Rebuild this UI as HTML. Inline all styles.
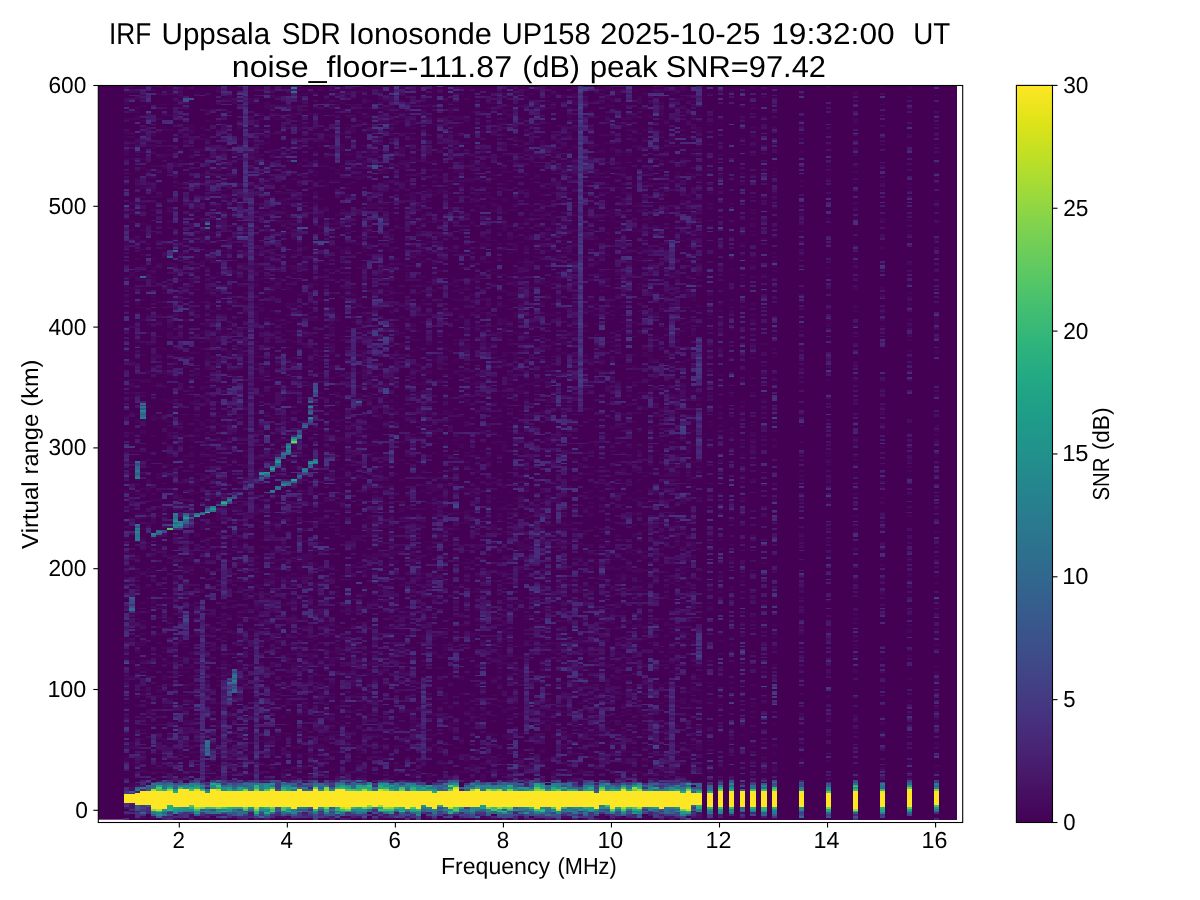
<!DOCTYPE html><html><head><meta charset="utf-8"><style>html,body{margin:0;padding:0;background:#fff;width:1200px;height:900px;overflow:hidden;position:relative}svg,canvas{display:block;position:absolute;left:0;top:0}text{font-family:"Liberation Sans",sans-serif;fill:#000;white-space:pre;text-rendering:geometricPrecision}</style></head><body><svg width="1200" height="900" viewBox="0 0 1200 900"><rect x="98.3" y="85.5" width="858.6" height="734.2" fill="#440154"/><defs><linearGradient id="bd" x1="0" y1="0" x2="0" y2="1"><stop offset="0.022" stop-color="#450a5d"/><stop offset="0.067" stop-color="#450a5c"/><stop offset="0.112" stop-color="#451767"/><stop offset="0.157" stop-color="#432c75"/><stop offset="0.201" stop-color="#365785"/><stop offset="0.246" stop-color="#306d87"/><stop offset="0.291" stop-color="#318584"/><stop offset="0.336" stop-color="#56a36d"/><stop offset="0.380" stop-color="#eadc2e"/><stop offset="0.425" stop-color="#fbe526"/><stop offset="0.470" stop-color="#fde725"/><stop offset="0.515" stop-color="#fde725"/><stop offset="0.559" stop-color="#fde725"/><stop offset="0.604" stop-color="#fde725"/><stop offset="0.649" stop-color="#f9e327"/><stop offset="0.694" stop-color="#e0d832"/><stop offset="0.738" stop-color="#5ba66b"/><stop offset="0.783" stop-color="#378482"/><stop offset="0.828" stop-color="#336587"/><stop offset="0.872" stop-color="#3c4982"/><stop offset="0.917" stop-color="#432f77"/><stop offset="0.962" stop-color="#451867"/></linearGradient><linearGradient id="bs" x1="0" y1="0" x2="0" y2="1"><stop offset="0.022" stop-color="#440457"/><stop offset="0.067" stop-color="#440457"/><stop offset="0.112" stop-color="#44085a"/><stop offset="0.157" stop-color="#430f5e"/><stop offset="0.201" stop-color="#411762"/><stop offset="0.246" stop-color="#3f1f63"/><stop offset="0.291" stop-color="#3f2361"/><stop offset="0.336" stop-color="#462f5c"/><stop offset="0.380" stop-color="#6d3c4b"/><stop offset="0.425" stop-color="#763f47"/><stop offset="0.470" stop-color="#763f47"/><stop offset="0.515" stop-color="#763f47"/><stop offset="0.559" stop-color="#763f47"/><stop offset="0.604" stop-color="#763f47"/><stop offset="0.649" stop-color="#763f47"/><stop offset="0.694" stop-color="#723e49"/><stop offset="0.738" stop-color="#44305d"/><stop offset="0.783" stop-color="#3e2961"/><stop offset="0.828" stop-color="#3f1e62"/><stop offset="0.872" stop-color="#421460"/><stop offset="0.917" stop-color="#430e5e"/><stop offset="0.962" stop-color="#440759"/></linearGradient></defs><rect x="124" y="85.5" width="579" height="689.5" fill="#450b5d"/><rect x="124" y="775" width="579" height="44.7" fill="url(#bd)"/><rect x="707" y="85.5" width="6" height="689.5" fill="#450a5c"/><rect x="707" y="775" width="6" height="44.7" fill="url(#bd)"/><rect x="718" y="85.5" width="5" height="689.5" fill="#450b5d"/><rect x="718" y="775" width="5" height="44.7" fill="url(#bd)"/><rect x="729" y="85.5" width="5" height="689.5" fill="#45095b"/><rect x="729" y="775" width="5" height="44.7" fill="url(#bd)"/><rect x="740" y="85.5" width="5" height="689.5" fill="#450b5d"/><rect x="740" y="775" width="5" height="44.7" fill="url(#bd)"/><rect x="750" y="85.5" width="6" height="689.5" fill="#450659"/><rect x="750" y="775" width="6" height="44.7" fill="url(#bd)"/><rect x="761" y="85.5" width="6" height="689.5" fill="#450b5d"/><rect x="761" y="775" width="6" height="44.7" fill="url(#bd)"/><rect x="772" y="85.5" width="5" height="689.5" fill="#450c5e"/><rect x="772" y="775" width="5" height="44.7" fill="url(#bd)"/><rect x="799" y="85.5" width="5" height="689.5" fill="#45095c"/><rect x="799" y="775" width="5" height="44.7" fill="url(#bd)"/><rect x="826" y="85.5" width="5" height="689.5" fill="#450a5d"/><rect x="826" y="775" width="5" height="44.7" fill="url(#bd)"/><rect x="853" y="85.5" width="5" height="689.5" fill="#45095c"/><rect x="853" y="775" width="5" height="44.7" fill="url(#bd)"/><rect x="880" y="85.5" width="5" height="689.5" fill="#450a5c"/><rect x="880" y="775" width="5" height="44.7" fill="url(#bd)"/><rect x="907" y="85.5" width="5" height="689.5" fill="#45095c"/><rect x="907" y="775" width="5" height="44.7" fill="url(#bd)"/><rect x="934" y="85.5" width="5" height="689.5" fill="#450a5c"/><rect x="934" y="775" width="5" height="44.7" fill="url(#bd)"/></svg><canvas id="c" width="1200" height="900"></canvas><script>(function(){var D="BDABECDACAAAAAAABAIAAELBAADADABFDAAAAADAAFGFAACBABKBACBADALAAAABAAAAAFDCBBAAACABABAAJBCAAAFEEIAAAAECAAACAAFAAAAAAAAABAAACAAAACAAAADAAAAAAAAABAAAABAAAAAAAACAAAHAAAAFCACAAAABFAAAGABADADAAZAAAABABIBDBABAAAHAKAGDAHEAAAJCBAAAAAAFDACAAIDCAAAAABJKJBABAAALAAAAAACFABAJGAJALAAAAABACAAAAAAAAAAAAAAAAAAAAAAAAAABAAAAHAAAHCDFFBAABCBAAAAAABEAAAGACCDBEDDFBAEABACBAAAAAADBIAFFACAHAACABHEACAAAADAIACBABDCAAACAMJFEBABBCGAAAACBCDBBAIJAAAFAAAEAAAAAGAAAAAAAAAAAAAAAAAAAAAAAAAAAAAAAAABBBEAAAEAICAAAAAABIHAFHAAAGCAACXAABAAAAAIBDBCADBABHEIIAADACAMAAAAAEAABAADCAAAEACAAAAMBACAAIBEHAAAABBAACAAAHAAABABAAAAAAAAAAAAGAAAAAAAAABAAAAAAAAAAAAAAAAAAAAAEIHBCBCBAABACAAFFAKIAAABAAAAFABACAAICCCDAEAEEAJNCAAAAAAAAACBAAFAADEBIBBABAGABBAABHAAABAIBAEAABIIIABAAAAIABAFAHAJAFAEAAAAAABAAAAAAAAABAAAACAAAAAAAAAAAAAAFFBGAABAACAADFBAAEBAAJADFICAAAEAAAHABDBFAEAABAFDAFBAAAIAAAAAHAAAAAADHBFBGAAAGBAFBBBIAAAADDAAIAAAIKKKAACCDHADAAAAAJAAAAAEAAAAAAAAAAAAAAAAAAAAAAAAAAAAABAAAAACEGAAAAABEAAAAAFABAIEAAAIBBEHJBFAAADAFDBDAAAABFCIACDAFFAIAEFAAAFEDADDAHABAAEBAFBECKCAAEBAAAGABACABAAAABDEAAAAADAAAAABAAAAAAJAAAAAAAAAEAAAAJAAAABAAAAAAAACDBCIAAAADAPPAAAAABBCCGBDAAADEFEAHAAABAAGEAABAABCCHAACACAAJCAIABAAACDDADEFBAAAAAAAAAIBAABBBDAFABAAEAAFBBAAGAAAJAAABAEAAADAAAAAAAAAAAAAAAAAAAAAAAAAAAAAAAAACIADIAAAABCPAAAAAEDCBIEBHAAAACFFBCACAACBAAAACBAABCFBADECAAABADAAACADAFAADAADDEBAAAGBICABCABEAJDBACFAABBABBFAAAAAAAAAGAAAFAAAAAAAAAAAAAACAAAAAAAAADAAAAFAAABAAABAAAAAECAAAAACAABAGBBABAAAFAACAAABAABAAABAACAFIFCFBAAAAABAAAABABBHAADAAICAABADJBJDCDBAAAAAABABDBADDACAKAAADAFAAAAAAAEAAAAAAAAAFAAAAAAAAAAAAAAAAAAAAAAABAAAAABBABCAAAAAABGGAEIAAABBABCAAAAFHHFCACBCAAHHAFGIDAAABAIADBAAALAAAADAAABJCCBEAFABMHAAAAAABAAAAACAAGDAADLAAAAAAAJABAAABAAAAAAAAAAAAAAFAAAABAAAABAAAAAAAAAAABAEAAAAAGAAAAAAAAADEAAABCCBCBCDAEAHBBAABBAAKADBAIGCDCBDIAAAAAAHAAACCBABCGBJABAFAAKDAAABBAACDAFAFCAHABABDAAAAAAACAAAAAGAAAAAAAAAAAAAAGAAAAAAAAAGAAAAAAAAHABAAIDCAECCAAAAAAAAAGHAAABBHHDBCAABCACIAADCBBHCBBAGHAAAAABABBAAABABDCAAJADADCBBAABANBAADAAAAEABCIFCACCCADAAAAAAAAAABAJAAAAAAAAAAADAAAAAAAAAAAAAACAAAAAAAAAGAAAAAAADAAAACBCFDAAAJAAAADAIIACCAAAAAABHAAAAAABDDADHIBACHEBFAAAAAABABBDAGEHBAAAAFDJAAAAAEBAAAAAAEBAAEACAAAAAAAAAAAAAAAEAAAAAAAAAAAAAAAAAAAEAAAAAAAAAAAAADBBAMAAGAEFAAAABFAACAAJDAAAAAAAABAAAAAACEDABAAAFABAAAAACAAEABAAABDBAFABADAAFDAAAAADAJABAACEGAIACAAEBAADBDIAADAAAAAAAAAAACAAAAAAAAAEAAAADAAAAAAAAAEAAAACAAAAAAADAACACFGAAACAAJAAAHADBACBABBCABCAAAAAAAADAABEABCBGGBDAAAAAAAADFGAHBBEAAEEAAGAACCLIHAAAAEACCAAALBADDABIAACAAAAAAACAAAAAAAAFAAAAAAAAAGAAAAAAAAAAAAAAAAAAAABBCEABBDADAAAAABJFAAEAHBADDEGAAKADAFCBACCAABBDEAAEAAAEAAAABAAAABBCAAABEAAACDAAAAAAHAFAAAAGAABAABKBADDEABBADAAAAAAAAAAAAAAAADAAAAAAAAACAAAADAAAAAAAAACAAAAABEEEAAADGAAAAAAACAADJCAAFBAEABADAGAAACABBABBICCCEBCCAJBAABBBBDAAAEAAABIAAAIBAAAABAJCCBABAIABBCABAAADCAABAAAAGAAACADABACAAAAAAAAAAAAAAAAAAAAAAAAAAAAAHAAABBBAEEBAAFDHAAAAAFDAAAHBABGABBCAADAGAAAAAAGAAACEGCAACDACCADCABBBACAAACBAIBAHGIAIAAAAGFAAACBABBAAAAEBACFCACFACABAAABAAAEAAAAAAAAAAAAAAAABAAAAFAAAAAAAAAAAAACAABJFAHHAAFAAABABAAABHDCAAAAACDBAADAAAIAAFBAAJCCABBDBAHEAGCCAABABADAAAAHADHABAAAACBMFAAABJAAAAAAAAABAEABABACAAAAADAAAAAAAAAABAAAAAAAAABAAAAAAAAAAAAAADAAAAAIAJAAHIAAAAAAAAAAAAEHDBAAAADDAADADAAAFAAAACAABBBBAEBEEEAACEECAAEABABBAEEAHBCBAAAJAJDAAECBBDBDAAICACAAACAAAAAAAAAAAAAAAAAAAAIAAAAAAAAABAAAAAAAAADAAAAAAAAAAAAAEAAABDBAAAAAIDAAGIECAAAACCBBAACAADGABADGBEIKEBAFCAAABCDAAAAACAAABDJDCCAEAAAAAAAHCBAAAKAAIAAAFFAAAAACCAABABALADAAACAAAAAAAAAAAFAAAAAAAAAAAAAAAAAAACAAAAAADAAAAACDABAAADACHABLAHAIAACACABADDADCAADCAAEALAAADAAEAAEBABAAAABEECABDABBAAAABBACJICAAAEEBBAAAAAAADAAABAAAAAAAAKAAACAAAAAABAAAAAAAAAAAAAACAAAAAAAAAAAAAAAABDEABAAADAABADACCABCBBAAAAECGBDDCABEJABBAACLLHCAAABAAAAHAEAAAAIAEACCGBAADFBAAACCBGGBAAADFAAAAACAAAAIAACBAAAAAAADABADABAAAADAAAACAAAAAAAAAAAAAAJAAAACAAACAAFCAEBBADDBAACABCGAAJBBBCAAIAGBADAAEAFABBAECBGABAAAAACAAIGAAAAAAACBDAIIACACAAAADABHGDAAAAAABBABCBAAIABAABAAAHAAAAAAAAAGAAAAGAAAAAAAAAEAAAAAAAAAAAAAAAAAABAIBEEBAAACABAAAADEAAAGABAGACBAFAEAAAAAJADBABABEDAAAAAADAAAKDAAAAJBICAAAHABBGFACCEBANAIAAAEAAADAAHFBAAHAAFBADAAAAAAAFAAADAAAAAAAAAAAAAAAAAAAAAAAAAAAAAAAAABCAAEBAAAABCAAAAAEFCAAHFFGACCAAFAEBCDAAECDAAAAGJECFBCDAIAAABAAFABEAACABADABEABAABDBALACAAACDAAACAAFAAEAAAACAAAAAAAAAAAFAAAAAACAAAABAAAAKAAAABAAAAAAAAAEAAAAAABDBAAAFACAABAAFAEAAIGCBCAAAAAACABDBBEAAAAAIAAFBACAAAGCAEBCBCHAEAABDBAAAGBAAACCABAIAAABBBDABAAAAFAAHABAACAAADAAAAABAAAAAAAAAAAAAAAAAACAAAAGAAAABAAAACAAABBAIDAAAABBCCDAAEBHHEAEGEACAAHAAAAAADABGAFAAAIIDAABACAABAAEACAAGAEAAAAAABAACDAADABCAKGBAAAABAAAAAIFBABAABHAAGAAAAAAABAFAAAAAAAAAAAFAAAAAAAAADAAAACAAAAAAAAAABEGAAAAIAACBBBAADIFBEACAAAAGADBDDCCAAIABBAAICBACEADBABAACDCAAAAACAACADBAACAAACBEDBJGAAAAAEACBABAIAABJJACGAAAAAAABAAAIADAAAACAAAAAAAAAAAAAAAAAAAAAAAAFAAABACCDDCBAIACDAACAFFGGAGBDDAAAAAFEDACBBAIAAIAAAGDABFAAAAICABDDCAAAAAAAAAACBACABAACAAAIGCAAAGFAABACHIACBAAAAIAAAAAAAEAAAAAKAAAAAAAAAAAAAACAAAACAAAAAAAAAAAAADCBFAACAAAABEAADAAAIIAHABBBAAAAIACAAAAAIAADAAACBAEHAAAAIDADCCCBBALAAAECAAACBABAABCAAMFFAABCBAAAAAJBAAGAHHIFAAADAAAAACAAADAAAAFAAAADAAAAHAAAAAAAAAAAAAAAAAABABDBBAAAAABAAABAAAIAAGADCAAAAABBAAAAAAJBADAAGACAAIAABAAAAAACCBAABBAADCBFACBABAFACAAKABBAAAAAAAAAHBABAAAAAGACAAAAACACAAAAAAAAAAAAABAAAADAAAACAAAAAAAAABAAABACDBBCBCCAECAABCDBAADKACAAAAAABBFAABIDGBAGABHBAJADAFDAFDAAAFALAADDDABBABBAAADFIABABGABBAAAAAABBAIGACBBAAABAAACAJAAABACAGAAAAAAAAAAAAAAAAAAAAAAAAAAAAAAAAAGCLAABAAACAAAAAGDDCAIIGFDBAAAGBJDABAAADEBAEAAFHAHAGBACAFCAAFACAAAFCDADBAAABJIDCCCAABLABAAABAAAACCCHBAAAAAAAAAADAAAAAAAHAAAAAAAAAAAAAAAABAAAAAAAAAFAAAACAAACALAFAAABABABBBGGCDFIIHIBAABCAEAAAAAAAAFBIAAABBCHAABAABFCEBAEBACAABAAEDAAACCAJDBAABAJHAABABCAFABGADAAAAGABBAAAAAAAAAAAEACAAAAAAAAADAAAACAAAADAAAAEAAAAAAAABACBIBAAABJAADAADABABHCCCADBACADADABAAAFAAACFBDADACBAGAECACAEAABAECGAAAAAABAIJEBBAAAJHHBBAACBCAAAAAABAJAAAAAAAAAAAAADAAACAAAABAAAAAAAAAHAAAAAAAAAIAAAACAAABAAABCAAAECAAAAADBBADAGCAAAABGCAAAADAFBIABBBAABAADEBADADCAAICDFFADAAAACECCABEEABBDEAJDAAAAAAAAAAAEAEFAJBAEIAFAAABAJABACAAAAAAAAAAAAAAAAAAAAAAAAAAAAAAAAAAABABAFACBBEAABEBACBDAACJBBBABACBAAAAEADDKABACABBBJKEDAAAHBAAICGFBCAAACABBDACBBBEADBJAICAAAAABABAAEACDDAAAABCADABAAAAABAAAAAAAAAAAAAAAAAABAAAAAAAAAAAAAAAAAAAAAADABBAGAACAAADHDAHAHCBAACFCJJAAAAABAIAAADCBACJCABABADAAAADBBAADDCCBAAFCACBDACEAJAMIBAAABAAAAAAAAAAAAAAAAAFAAAAAAAAAAAAAAAAAAAAAIAAAAAAAAAAAAAAAAAAAAAAABBDBDAAAAAAAAABCAFGAACECBCAAAAAAABAAAAAGAAABAEDAHFAAABACAAAGEAAAAADACAAAEBCCABAABDABHGCFEAFAAAABAGCAAAABAAFAAAEADAAAAAAAKAAAAHAAAAAAAAAAAAAAAAAAAEAAAAAAAADAGADAACAABAAAAHIDABDAFADFBACACPABACAAAJACCABDGBHAABBBBCABADAABABEAADAABBAABAAADAABDJDEFCADAAAADAKABACADDAEAAAAAHAAAAACAAAAAAAAAAAEAAAAAAAAAAAAAAAAAAAIAAAFAAABAAAABAABDAFFAIDCAJBBMAEBAAAAACBAAAHACABBCFHIAABBHAACAAFBECAAEBAECAABAAADDDDABBBKFDDCCCCACAABKAAADHEAAAAAAFAAAAAAAAABAAAAAAAAACAAAAAAAAAEAAAAAAAAABAAAEAEFAAAAEBDDGAEDAIDDAAHABMBEEAAABABGAAAAAFFHBADAADBCCAAAAFAAADBABCBAAGBACCCAAADAEBABIMGAGAEBAAAAAAAEAADBAAAAAAAAAAFAAAJAAAAAAIAAAAAAAAADAAAAAAAAACAAAABAAAAAAAABBCDCCAAAFCABABAAJDAABHEFAAADCHBBAABADABIPIABCADAAAAAAAAFECCABAAADAFGAABBDJCBIDJFHAAAAAAACADCIBAADBAAEAGAAAAAAAAAAAAAAAAEAAAABAAAABAAAABAAAAAAAAAAAAAAADBAAABDAAADCAAJBHBBAHCHAJAABAAAAAAAABAAIBBCCOADIABBAABAAAACFEBBCBCABBAABAAAAEJDBCDKHHAAABCBAAABCAAAAAAACGAAAHAAACAAAAAAAAAAAAAAAAAAAAAAAAAEAAAAAAAAAAAAADACABHBACAAEAAABBCABIAIAEEDBEABAAACAAAABADAAAABDBACADEAEBCBAABBACDAAAAAACGAAAGAEBCJCKEDCAAAABAAEABABAAAAAAFABAEAAAAADADAAAAAAGAAAACAAAAAAAAAAAAAACAAAAAAAAAAAABACACHAAAAACAAAAHAKGGBJAADHFAADBAAAAAADCAHABBAEAAAADAAAAABBAAAAFAABBAFAAAAAAADBCGDHBABAAAAAJBAAAIABAAAAAAAAAAAAAAAAABAAAAAAAAAAAAAABAAAAHAAAAAAAAAAAAADBABFAAAAIABDEADCBADHAIBCHAAACECBHAAAAACAADCABICBABAAACGAAADBAEABGGAAAAAAACAAAACCABCJEBBDAICBAAHABGAAAAACABACAEAAACAAAKAAAAAAHAAAABAAAAAAAAAHAAAAAAAAACAAAAAAAFIAADCAADFBBCCCCCAGIIBBDDCDADBABAAAAEGAABAAAAADABCBAACADAACAAAAABDAAAABABAAAADABMAABAAABCAADDCAAEABAABCAJABAFAAABADABAAAAAAAAAAAAAAAAAAAAAAAAAAAAAIAAACAAGBCAAACAAAGAJAGABBAJBBAABEFAAACAAAAAACCBBBFAAKAGAAAACDBBCABKAABIAAAAACCAABAAAAGEALIBBBCAABDAHAAABBADHGCAAAABAAAFADAGAAAAAAAAAAAAAAAAAAAAACAAAAEAAAABAAABABDAAAAAAAAAAABAAGBAAIABGBCDFABAAAAAAAAAAABABHAAAAAAEAFAAACABABBCAFBAAAAAABAAAEAHBAIAAAAAABADAHACIGFABAGAAAAADADAAAAAJAFAAAAAAAAABAAAACAAAAAAAAAGAAAAAAAAHACDAAHAABAACBAEDFBAAAKAAEDADAAACEDABABBAAAAAAAABCBABEAAABADCBCBBABCAAABAAAAAAADBACDICBAAAADAAADAAAAACACAABAAAJAAADAIABADAAAABAAAADAAAAAAAAABAAAAAAAAAFAAAGABCCBBAADAFACAGDAGBBAFEADAAAABAEEACAADDAACAAAAABCDBBAAAACACAAAAAAABAAAAADAADAABCAEFMABEEAAAAEAECAAAAAABBAFAFABAAAAAEAAAAAAAAAAAAAAAAAABAAAAAAAAAAAAAACAAABACDCDAAAABCHIEDBGKJKCKDBCBBAAAABFADAAAAABAAAAADBADCAGAAAAAABHBAAAAAACBAADAAABCBCAAAKAADDBAACEAGABBBCADCAAAACALAAABAEADAAAAAAAAAAAEAAAAAAAAACAAAABAAAAAAAAAABBBCAAABAAIEACGHECJBJBEAEDACAABAADCBAAAAAAAADDFAACABACACECAABAAAAAAAAAAAAAADABCBBAICGIAAAAAABGDCAABAEAAACAAAAAAAAAAAAAEAAAABAAAAAAAAAAAAAACAAAAAAAAAAAAAAAABCCAAAABDECABHEACAAEAEIDEABAAAABAAAAAGBAADACDCBACABAAAAAABADACACBACBACAAAABBAEGAAHAAICCDBBGAGBAADHABFACEAGABAAAAAAAAAEAAAAAAAAAAAAAAHAAAAAAAAABAAAAAAAAIAEAHBAAAAAAEAACGFBACDIDAGAAAACBAGAAAAACAAAAAABDCACACAAABABBAAFABEFAAABCABBAAAAABEACMABAAAEABAAHGADACCDFACCAFAAADAHAAAAADAAAAAAAAAAAAAAEAAAABAAAAAAAAAEAAACAEADBAAAHAABAAADAAACDICCCAADAABAAABAAACCAAAHAAABABAAAAEBBBCAABAAAAAAEAAACAABAAAAAACKAAAAABAAAAGBAAACABDACAAAACAAACAAAAADAAAAAAAAAAAAAABAAAAAAAAACAAAAAAAAHAAAFACAAGAEAAADCCAACEGEDCJABBBCEAABAAAHFAAAHGCCAAAAABDBBABBBGDACBBBADAAKCCAAAABDDBAHCIABBAABBAAAAEBAAACACAABACAAAGADAAABAAAAAAAAACAAAAAAAAAGAAAAFAAAAAAAAHAAAAABAAHADABABAACBHCEDCGGAAAAFCBABAAACBBIAHADEAACABBACDBADAAAAABAAADAADACAABDADCAAIAEADAAAACAADAHDBAACBAEAAAAAAAAAAAHAAAAAADAAAAAAAAAAAAAAAAAAAAAAAAAAAAAABBABBAAEADADCDIICBACEDACABAAACBAAEAAACABDABDFBAFCAABADCAAEABDCAAABAAAACACAAAAACHAALAAEAAACADAACDGBAAAABADAAAAAAAAABACACAAAAAAAAAAAAAAGAAAAEAAAACAAAAAAAAAAHAAAAACDAFAGCIAABAEAHIAABIABCBDAABBAAAAEEAADACAAJAABADAAABBADACBEABABABAAAAAAACAGAKFAAAAAACFAABAAEAAAAABCAAAHAAABAAAAABAAAAJAAAAJAAAAAAAAAAAAAAIAAAAAAAADAHCDCAAEDAGCIAAAAEBGAFHAAEIBBAAAAAAAAAAGIAAACADAAFCCCABBAACAAEABCAAAABAADAAABACABAAHIEAEAAABCAADAAAAAABCAAAAADAAAJACACAAAAAAHAAAAAAAAAAAAAAAAAAAAAAAABAAAABACBBBABAABBCAAHAAEBLILAAEHIABAADBBAAAAGHABAAAEEDBDADDDAAAEACCBBAABAAAAAAAAAABAABIBNEAGCAACBDAAHGBBBAABEAAAAACAAAAAAABAFAAAAAAAAAFAAAABAAAAHAAAAHAAAAAAAAABCAAAEAAAADFBDAEDAEACAGBCDHHBBDIAABAAAAAAAAHBBBBAFAAGCAAAAEAAAAAAAABAAABEDADBADEHIAHGAGEAAFCFABAAAAAAADBBBABAAABAEAAACABAAAAAAAAAGAAAABAAAAAAAAAAAAAAEAAANAGCAAGAAAABGCCABBABADADABDEAAAECCACAAAAAAAAABBAAAAAADBGAAAEAAAAABBABBAACAABACCDAAHBHAAAEAAABABBDDACBCCADFFAAAAAAAAAAAAAFAAAACAAAAHAAAAAAAAAEAAAAGAAAABAAADAJCAAAABHAAFBDAABAIIEAHAHDAABAAIABEABAAAAEACBBCBAEAHCACDAAHBECAAABAACAAAAAAAEAAAAIAIABBHAAAAAAAAAAFCAFBCECABAAACABAAAAABAAAAAAAAAAAAAABAAAAAAAAAAAAAAAAAAFCAAABDABCAAABAAGAAAIEGGAAABAAAAIBAEBCAABADCBAABAAAABDCAAAAABDAACAAABCABBABACBAAAAIAJAEAAABGADABCAEDBABABACAAAGAMAAABAAAAAAAAGAAAAAAAAACAAAAAAAAAAAAAAAAAABAFBAAEACDADACAAABBAAHFFEBACCBBAAAADDBAAABCCHFECCAAADEAAAABABIGABBAABCBAAAAABBACABAAIBFAACABCDACADBIAACCBIAAAAEAAAAAAAKAAAAAAAAAAAHAAAAAAAAAAAAAAAAAAAAAAABBJDAAEAAHADBAAFFKCACFCHCBBBCCAAADCECAAADCECGFFACBFADGAACAAAEAEBAAJJADBAAEABAABAACGAGAEAAABCAAAAFDGICGEAACCAAAAAAAFABAAAAAAAABAAAAHAAAAAAAAAEAAAAEAAAADAAAFABDABAAAGAAIAAFBAIBHIBFABCEAABHFFABBAABBDEBIAHADAAACBABDFADFABCAAAAAAAAADABBBCAAAFBGBFCCBACDBAAEAIAAAEGBBAAAAAAAAAAAAAAEAAAABAAAAAAAAAFAAAAAAAAAAAAAAAAAAGAAAAADAAFAAABAAEAFACHEEDCAHHABEJDACBAAAAIAAAGICCAAAFAABACAJJEHBAADCAFAAAAAAABABDEBAKACCBABAGAAAABAABABIIBAAAACAAADAAAFAAAAAADAAAAAAAAAAAAAAAAAAADAAAAAAAABAAAAADAAIAHHACEBLBAAAEFAEACAAAAEAAGAHCAJECAEFFMDABACCHCAEABKAEDAADIAGAAAABDCBBBAEBAIAAAAAAAAACABBAAAAAIIDCAAAAAAACABADAAAAAAEAAAABAAAABAAAABAAAAAAAAAAAAAAAAAADAABHAAAABAABCAAGHGDCGICCBCFAAGAAABACDAECANEAAAAACBABDBJBCAAAAAAABAAAACAAABAFIAJBABEABABFABAAAAAACCIDAACAAADAAAAABAAAAAAAAAAAAAAAAHAAAABAAAACAAAACAAAABAAAAHABGAHAABIACCAAAACADHABABAFAAHACABFCAAJBAJCAAADHBABCAEBDAABAFFFHDAAABAAAABABBAGHAAAAABAEBAABAAAAFBIIDAAADABAAAAADAAAAAADAAAADAAAAIAAAACAAAAAAAAACAAAAAGBAAAAAAADCJAZACCAHACJAAAAABBCBAADADBBCADAJAIIIAAADEACAAAEACAABAIDABBAFBDABHACGBBANADAAAAAKEEABAAACAAADBAAAADAAAAABAFADAAAACAAAAAAAAAIAAAAAAAAAAAAAAAAAAIAIACABAAAAACJAABHDCBDALBAIAACABBAABBDAACHAAHDAICACADAAEAACHACCCACABAABBFAAACCAABFAAJAFAAAAABFDACABAAABACAHABAAAAAAABAAACAAAAAAAAAAAAAAAAAAAAAAAACAAAAAAAAEAAADADABAAEDAFVAECAAHCECABAAACAOPAABICCABAABBAJAABBCACAAAFEAAAAAAAAABBAACACAABACHAAICAAEAABBFBADCCACAEFFADAHAMAAAEAAAEAAAAAAAAAAAAAAAAAAAAADAAAAAAAAAAAAADBABDAAAADAEAACBAACBAHBHAECIAAACFAAAAIIAABAABDAJACAADAAAAAAGAACEAAACAABABAAABACBCBBBIACADAAAGJABBAKIAAACABEAAAEAJAEAAACAEAAAAAAAAAAAAAAAAAAAAAAAAAAAAAAAAAHAAADDCAAFAAAEBBAEDDBBBFACBCARABEEAAAIAAAADACBGJCAAAEABDCBAAAEAAAACDAAAAAABAAAAAFCCBGAAGDAAEBABBDAADABACCCAAHAAAAAMABAEAAAAAACAAAAAAAAAAAAAAAAAAABAAAAAAAAHAAADACAAGAIHCBABEAADGDIFAABCDBCDEAABFCAACAAFBAGCAAAAABCDCCIDABIAADDABACAAAAADBAGICAIDEAABAHAAAADBBEAABBFBBAAAAAAACAAAEAAAAAAAAAAAAAAAAAAAAAAAAAAAAAAAAAAAFAAAEAAAABADHAABAHAACCAHAAAEFBADCAAFAEAAHAAAGAAACBAAAACEEABDDAAAAACAACACACABGCBKBCAAMCDAAAAABAAAFAFBAAEAADBAAAAAAABABAAAFAAAAAAAAAAAAAADAAAACAAAACAAAAAAAAIACAIAAAAAAAABBJBDABDMLFAAEHAAACJAAIAAGBAHABCCCAEBAAFFBACEBABBAFAABBAAABBABCGCACEAABHCBBAAAAFAAAAAJJBAEAAAAAAAAABAAAAAAABAAAAHAAAAFAAAAAAAAACAAAAEAAAAGAAAHBBAAAAAABAFCEBHAAACAIIGAAGEAEABJAAHADAAAFAADAAABDAACGAAADADACAAAAABAAABAABCGADAAAAAJBCBABABEAAEAAAAAACABBCAAAGAEAAAAABAAAAAAAAAAAGAAAAAAAAAEAAAAAAAAABAAAGGABAABAALAAHACBADHBABCHAFAIGAAADAAABACAADFAAAAHHAAACAHBAAABAAADAAABBAAAAAAAABBAFBBBIAAAAAAHEJAFDABAGLABADCAEABAEAAAAAIAAAAAAAAAAAAAAAAAAAAAAAAAAAAAAABAAABHBDAACFHBBBHBCBFBACCDCFABGIDAAACAAMMMDAACCAFAAAACAAAAAABDCAAAAGFBAAAAAAABAAAAAAFAIAKAAAAAACDAAABAAACGIAAECAAADAAAAAAAAAAAAAACAAAAFAAAAAAAAAAAAAAAAAAADAAABAGABAEBBFDAAAABAABCAACHAAEEEAAABAADMADAAAABIBACCAAAHEFCABBAAAACAABBABACBAAABCDCABABHAABCAACCEAAFAABBJAAAIBAAADAFABAAACAAAAAAHAAAABAAAAAAAAAAAAAAHAAAAAAAACDCAAAAAADBEAAAAAAIHABEFCBCADBAAAAABBABAAAAACCFACAAABBFAAGCAACAAAABBAAAABABAICCJAACBLAAAEECDCCAAACCAALBABGFAAAFAAACADAAAEAAAAAAAAAGAAAACAAAAAAAAAEAAAAAAAACADAEACBAJBAECAAAAAFAAAHCCAABHAACBABAAABABAABDAAABCAAABDFAHDACAACBEAAFCABABABAADACCAJAAAFAAAFAABABACAGAAACAAAACADAAAEAAAAAAAAAAAAAAAAAAIAAAABAAAAAAAAACAAAGAACDAAAACAAIGGABCABBABEAABDBIIAEBAPAFAABBAAAABDBBAACABAGAIBBAABAAAIABCGDACADAADBABALAEABAABABAABBADAHBBABAAAAAAAAAAAAAAAAAAACAAAAAAAAABAAAAAAAAAAAAAAAAAAAACAAAAAIXAFAHABBJBBAEBIACDBAIABCAADDHAABCAABAAHABAAEEEBBFBABBAKAAAAAAAABABAADBAIBCAKABACAAGBCCACCEFCHAAAAEADAAAAAAAAAAAAAAAABAAAAAAAAAEAAAAAAAAAAAAAAFAAACAAAAAACIBBCAAAAHIABABCGBCBDAAAABAAIDHCABEACAAAAAAAAFBCABBCBAAAACAAIAAABAADABDAAAABAMAHHFAAFBBADBBDCDFAHBADADAAAAAEADAAABAAAADAAAAAAAAAAAAAAAAAAAAAAAAEAAAAAABEAACIABAABAHDIBEAHCFBEABCCABCAABADDAAABAABDDAAAAGBBBAAEFACCDAAAIAEAAAAAAAAAABBABGAAIBBAAAAAAADEEDGAAICEAAAAANABADAJAAAAAABAAAAAAAAAAAAAAAAAAAAAAAAAAAAEAAAAAABTAEIIBADEBBEAIBIAACCAFADACDCACAADDDAAAEEAIAABCAAAACDAAHAEACBAAAAAAAABBEBBDAAHBBBBAAAIJABAAAAEFAAEHAAAAEACAAABAAABAAAAAAAAAAAAAAAAAAAAAAAAAAAAAAAAAAABAJBAAAIAFBAABBAAAAAAIBABEDAAAABBIAABACAAAAAEIAEBAHABACABCAAHACACAABAAAABAACDEBACAHADACAABHJBABBADDIBBAABAAAAABAAAAAAAAAAAAAAAAAEAAAAHAAAAAAAAAAAAAAGAAAGAAAJAAAAAEAAAABBPEFCAAEAAADDAABABAHIADBBCABFEAHABAAAAABBDAAAAHBAAAAADAAAABABAACFDCAIAFADAAFDAACDHAADGEACHBAAAAAAANABAAABAAAADAAAAAAAAAAAAAAAAAAAAAAAAAAAAAAAADAAAAAACDABACCEAAAADAABABIAAAGAEBAAADFAAAGIIAAAAABABACEAAAAAAABBAAAAABCCAAABADACIAABAAADDCAABAACBJCAAIAACAAAAAAAAAAABAAAAAAAAACAAAABAAAAGAAAACAAAAAAAAAAAAEABABBAACCBAAAGAABBECEFAAHAAGBABABDAABAABHABACBBAAIAABAFAAGABDAAAAAAAABBAAAIAADCMACBAAADABAAABBDAFAAABBAAAFAAAAAAAEAMAAAAAAAAAAAAAAAAAAABAAAABAAAADAAADAABAACAABADAADAAAFAADBCBBCCACBBCBAFAAAAAAAABHAEBAAACBHAAAAAAAAAHAAAAIAADABBEADIIIOGJACAAAADACAAACDBAEADCACAAACAAAAABAHABAAAADAAAAAAAAACAAAAJAAAAAAAAAAAAAEADCABBAHDAEGDABAAICADCCBADDCFABCBAFAAAACHABBHACBCEAAABAAHAAAABDAAAAAIAAACBAFAAAAAADLBAAAAAABGAAEIDAGIADAEDAAABAAAJACAAAAAAAAAAAAABAAAABAAAAIAAAAAAAAAAAAAGGCFAAAAAHDEGAACAACBAADDAAGIEDABBFAFADBBAAAADAACJCFBBAAAAAAAAAAGACABCBAABBCBDAAGAAKCLAAADDBCGEBACEABCGAAAFDAHADABAFABAAAAAAAAJAAAAAAAAAAAAAAAAAAAAAAAAEAAAGACABCAAAEDAABADAAFEBBAFBBACBEAADBACABACAAAADADDBGAAAAAAABBEAAAAAEACAAAAACCAAAAAACKCJAAABAACDHAAACDADACAAGCAJACAAAAAAAAABAAAAAAAAAAAAAAAAAAADAAAACAAAACAAAABAAABAACCEDDAABABHEBEADCADAAAABAAADAACACCAAEAECACAABFEAAFAAAAAAAAGABAAABBAAAAAADICAIAAAAAABBEAADBEABBCDAABAAAAAAAAAAAAAAAAAAAAAAAAAAAAAAAAAAAAAAAAAAAAAAAABAACAAAABGAIAAEAADJACAFCACDAAAABAAAABAAAAAACACBBAAABFBAAAAAAAAAABDEABBAAAAAAADAAIDDJACCBAABCDBADCFAFBBAAABAAACAAACAAABAAAAAAAAAAABAAAAEAAAAGAAAAFAAAAAAAABABVCBAAABAAAEAABBAAACAGAABAAADAAAAECCAAABAADAABAGAABEABABAAAAAAABADAFACGBDDKAABCEFCIAAFAAAADCDDAAAAACBACAAAJAAAAAAABACAAAAAAAAAAAAAAAAAAAAAAAAAAAAAAAAAAAGACAAAAAAJACDDABDABAAAAFABCKCAAEEAAFAAAAAAAADBFCJCBAAAAAAAGFAAACBBDEAAAACDBAAHAABBCDHBAAACADFAAABAAABAAABFAAAAAAAABAAAAACAAAAAAAAAAAAAABAAAABAAAAFAAAAAAAABABBDBAADGBABBACAAABAABFBAACADAABGABACCACBAACACECCAACCCAADHAABCFBBAAABBAAAAADBAABAHAIACFDBAACBAABFGDAACAAABAAACAAAAAAAAAEAAAAAAAAAHAAAADAAAAAAAAAFAAAAEAAAJAAADBADAGAABFAABFAFGAABAABABAABAAAAAAACADAABAEAAAAAAAAABCIIABAEADAAAAABBEFADBBAAAACJGAAFBAAHEAAAAAADACAABAAIAAAAABAEAAAAAAAAAAAAAAAAAAAAAAAAAAAAAAAAAAAAAJAAADADACAAFBAACDAAFACDDBAAACACCAABBABAAADEAJACDEAAAAAAAACBBBAACAAAEBABCBECABBACCAGCFAAACAABAJABBFEFDAFEBAAAAAAADAAAAADAGAAAAAAAAAFAAAAAAAAAAAAAABAAAAAAAABADCDCBFBAACCAACDDCBABBDBAABBAAAAGCAADAACCAACAFABAACABCBBAAEABAAABAADHAABACAAABAFCEBLAAABDAAJFAADFAADBAAKKDAAAAACAGAFAAACAAAADAAAACAAAACAAAAAAAAAIAAAAEAAABBBAAAACBADBAAACAKKCAAAEAAFBBABAAGBAAAAABCBACAAAABAAAAAADACFAAABADAEAHAAAECBEAADCBDAMAAAAABEDEABAJAACCDAAAAAAAAADAAAAAAAAAAAAAAAAACAAAABAAAABAAAAAAAAAAAAAAADBAAABGAAEBCABDCHAAAACAAIEADAAAEAAAFAAAAAAAABDAAAAACAAEBAEAABCAACAAFAAACEAJAAAABDCHAAAAAAACHAAEAABDDBADIAAAAAABAAAAAJAAAAAAAAAAAAAAAABAAAAAAAAAAAAAAGAAACADABEAAGHDEAAABBCEAAAADAABBAAAAAGAGACAAABAAICBEBBAAADACCBACABAAAADAABBAACEAIBAAEACDIAAABAAACCAAEBAACACBCIAAFACAAAAAIABAGAAAAAAAAAAAAAAAAAAAEAAAAAAAAAAAAAAAGAKKABEADBFAABDAEFAABFAHBAAAAAABDIAGCDAEAAAACEACBBACBACAAEAACAAFFAAAABBCEBIAAAEAAAGAAAAAAABAAADCBABCBABBAABAAAAAAAAAAAAAAAAAAAAAAAAAAAAAAAAAAAABAAAAHAAACAAAABAAABAABAAABBAAAAAFBAAAAAAABACIAEAAABBAAACABAAAAAAAGAAFAAAABEAAAAABBIEBAABABAACIAAAAAABGBAADCICABAEBCAABAAAAAAAAACAAAAAACAAAAEAAAAAAAAABAAAAAAAAAAAAABAAAABAAAICAAAAAABACCEBGCAACAAAAAADAAAAABAAAIAGAAAAADAAACAAEAAACADAAADAAAIDAHGCABDABKAEAEAACBHGAAAHBBAFEBBAAAAAAAAKAAADACAAAAIAAAAAAAAAAAAAACAAAABAAAADAAAAAAAAAAABBCFBAABAAIIAADDAADCCAAACADAAAHABEBBABACACAAAAAAAABABAACAABCAEAACBBACACABACEKAAAFAADAGACBAIIECBAAAAAAAAAAACAAAGACAAAAAAAAAAAAAAAAAAAGAAAADAAAAAAAABAIBABAAABBAAAAAACACBABFAEDCCAAADAEBBJAAADEBAAKKAAAACEABADCAABBCBDBCAAABABBAHAAADAAAGABAHCCAAAAAAAFADECAABAABAAABAEAAAHAAAAAAHAAAAAAAAAAAAAAAAAAACAAAAAAAADABAAABCHIDAEABCAIBHCAACAAAADAAADACFABAAAJFAAAHHCDCACAAAAAAAAAAACEABABAABAEAABAADAADLFAAABAABGAAAFCABACAAAAAAADAAACAAAAADAAAABAAAAAAAAAAAAAAAAAAAAAAAADAAAAABAACAAAGAFAAABBAACBBAEABAAAABBAEACABAAAABBAAIDDBCBDIABCADDAAAAADACACAAABFFIBACLAABJAABABAAAAACAAABACCAAAAAJABAAAAABAHAAAAAAAAAAAAAAAAAAAAAAAAAABAAAAAAAAEAAAAAAABEGADDAEAHAAFEDEBAAAAABACAAAAAAAAJACAAEFGDACBFBAAAFAAAACCAABABBAACABACAAGHJBJBDAEEBABEAADAABABCAAABAFAAAAABAAAAAAAAAAEAAAADAAAABAAAADAAAAAAAAAAAAAAABBAGACBDGABAADAAAAAADGCBAAAACACACEAEBAAGGADBCBAAAABDCAAAAAAAACCBBBABAAGCIHAAABCCAAJAEABBABBHAACABAAGJCCAAAAAAACACAAAFAAAAAAAAAAAFAAAABAAAAAAAAACAAAAAAAAAAAACAAAADJJBAACACACAADDABAAAAAFAAAEAMCAAFAAAABBAACACCDADAAEACAAABBAFAABAFHAIAAAAACBHBACCAAAAAAAADACBEFAAAAABAAAAAAACAAAAAAAACAAAABAAAAAAAAABAAAAHAAAAAAAABAAAABAAAJJACBAABAAAAACEBBABFAABCAADACBAAEAAAACAABDAAFCADABBAAAAABAAEAAAACAAFAAAAADBKBBACABAAIABECABFFCEACAAFABABAAAAAEAAAAAAAAAAAAAAAABAAAADAAAACAAAAAAAAEABAAFAAABAAFAABAAAAAFBGBAAABAAECABAADCAAHABCDDAABAAAEBABAHCCAAABABCAAAABCEAECAACACDICAABCAAAIAAFBBAAABAAADABAAABAHAAAAAAAAAAAAAAAAAAAAAAAAABAAAAAAAAAFAAAAAIABDBABCBAECADACBAAAAFBAAAAABIJFAAAGHAAAAABAIAAAAAAECCBCDEEABACCABCAAABJDBBABBAAEDIAABDABABGAACCBAAFDAAAAABAAADAAABAEAAAAAAAAAAADAAAAAAAAAAAAAAAAAAAJAAAIAHACDCDFBAAACAABEDADBAFBAAAAAAABABCABHBAIDIABADAAABABAAADDAAACAAEABAAAABJAAEEAABAFCJAAAEAAAABAAAFDBAHHAADAAAAGAAAIAAAAACAAAAFAAAAFAAAAAAAAAGAAAAAAAAABAAAIAIACAAAAIAAAAAAADDACAACBACAAAACADBBABDAABBAACIFAAAABAAACBHHAAAAAAACABAAAEBCDGAACAAAIAAAKABABBABIEAAAGEFAAAACAAADAAAAAAAHAAAAAAAAAIAAAAAAAAAEAAAAAAAAABAAAIAABEHAADGJBJAAECEEAAAAGBAAABCAAAEBBAGDBAAADACIACFDABAAADAFAABACAAHIABBAABICDGACCAABKAAAABAAAJAAFHEAADCAACDAAABAGAAABADAHAAAAAAAAABAAAAEAAAABAAAABAAAABAAAAABAAABACAAAAAABBDACAACGBADAAABABGAAAABAAABEBCAIHAAAAAABFADCAAACAEAAABBBACICBHACECACJAAAFAAABCBAFHAAAFAABBEAAACAGAHABADAFAAAAJAAAAAAAAADAAAAAAAAAAAAAABAAAAAFABCCABAAAAACBDIAAEADDDAIDABAAIHAAAABAAAACABAJHCAAFBAAIADFDAACABADACBDAAGAAEDAFABDMBABCAAAACACEHAFAFABAAAAAAEAAAAADAAAAAAAAAAAAABAAAAAAAAAAAAAACAAAABAAAABDAACAABAEAAAABEIABDAAFDEBACAAABHAAADAAAAAAEGEANCBAFBAAFDEADAABABCCBAABAFGBBAAADAEAJCAAJAAAAEAAAAACAIAAACBAGACAEAAAAAAAKAAAABAAAABAAAACAAAABAAAABAAAAHAAABCCAAAAABAEAAAAAADBAAFDDCFBACBAAAAADACCAABACDAAAAAAABAAAFAAAAAICBBAAAAAABEGBDDBAAAACLAAAJAAAACAABAAAAIAABAAAAAAAHADAAAAACAAAABAAAAAAAAAKAAAAAAAAAAAAAADAAAJAEAAAAAACBAEEAAAFBFACBFABAAAAAABAACDABAAAGBAACJCCBACBAAAAAAAAADACABAIBAAAAEAFAAAAAAHAAAKAAABBAADEAABIHAACAABACABADAEAFAAAAAAAAAAACAAAAAAAAAEAAAACAAAACAAACAEAAAAAAABABAACBBAACBAIAABABABBIBAAAABAACHABCKGEHCAAEBAEAHAAAABABBEAACFAABAABDACDABJBAAAAABAHACIAAAAGBBABAAAABAAAEABAAAEAAAABAAAAHAAAAAAAAABAAAAGAAAAAAAADAGGBFAABADAHABCEBABCDBCACDBCAAAEDCDAABAAAGEAELAAABBAAAADACAAAABAAFABCAABBIAAAAAAACBHAAAAACAAEABFAAAALBAABAACACAAAAAAAFAAAAAAAAAAAAAAAACAAAADAAAAFAAAAAAAAAACAAEAABACAACADEABBAEAIACDDABABJBBAADCAAAHAFALEAGBAAAAACABABAAGAAHDCBABABBAABAAFDCBIAABAAADABAAAFAACGBAABAAAAFAAAAACAAABAAAADAAAAAAAAAAAAAAAAAAABAAAAEAAAAAEAACCABBCABCACACGEGFBGACBBCAAADCABAABABGFDBCDDEAABEBAADAEAAAABAAFAABAAAECBCAAABBAAFBAAAABCAACAAABAAFAABAAAAAAAAAEAAAAAAAAAACAAAAFAAAACAAAADAAAACAAAACAAAEAFAACAABCBADDEDBCEDAADIAACBDAAABAAAAFAAAAFFCCBCMFAAEAAADAAAAAAAACCAFCAAADCAACAABDBDHAEGIABBAKAAACABAFAAAAGAAAAAAAFAAAAAHAAAAAAAAAAAAAAAAAAAAAAAAAAAAADAAAAABAACAAAAAAAAABBCFAEDDBAACABCBACAEAAABABCHBDEDLLEAAABBADAAAABCDAGCAFFABACAAGACABAADKAAFIAAFAKAAAEDAAFBAAALAEAAAAAAAEAAAEAAAAAAAAAAAAAAAAAAAHAAAABAAAAIAAAFABCCDAAIAHIHABABBFDAIBGBACADCABCAEAAAAAADGBEEAAKCAAFAAABACAAADAAABAAAAAAAAAAEABABEAJAAFGBBAABAAACAEAHBAADHAEAIADAAAAAAAAAAAAAAAAAGAAAAAAAAAEAAAAAAAAAAAAAHAAABBAAIAFIGAAABAGAADCHAAAAAAAABCEEADBAAAFACDIHIAEBAAAABAAAABFBAACBBAABCBBBABABFBBAGAACIAABAAAAADAEADAAAAFACAAAAADABABAAAAAAIAAAAAAAAACAAAAHAAAAAAAAAAAAAAABAAAAAAEFAGAAABBAADABCBDBAAAAAABCAAABAAAGAAGEGADABDAAAAAAAAACBAACAEAAAAFHHACCAAAIEIAABEABCAJAADFBAAEBAAAJABAAACALACAAAAAAAABAAAAAAAAADAAAAGAAAAAAAAAAAAADAJAAABAACFAABAAFIAAABAFADCDAICAABDAAHCAADFAAHDEIAABGABAAACBAAABBBECDAAAADHFCBAAAAABIAAACAAAAJAABCADABEDDKGAAABAAAAABAAAAAAAAAAAAAAAAAAAAAAAAAAAAAAAAAFAAAJAAAAEABABDEAABDFDDAEBAEBDHAABAACAABAABAABGAAAFAIAAAIAACAAGBAABBAADBAAAAAABADBBACAAAKAAEAAABAAAABCACAABHCKJAAABAAAAACAAABAAAABAAAAAAAAAAAAAAAAAAAAAAAAAAAABACAADAAAAAFAAAAAABBABDGAAAAFAAAJAACBJCAADEBBEIHFABAABAAAAAABABCADBBBAAAABCADEAABAAALAAABADBAAAAACAAFACAAAIAGACAHAKAGAAAAAAAACAAAAAAAAAEAAAAAAAAABAAAABAAAAABAADAAAAAABBABAAABABAFBAFAABAAJAABAABAADGACEIHAABAAAAAHGFAAFICADGEBABBCFGAIAAAABACJAAEEDADAAAABAAADBGFAEEABABAAAEABACACAAAAAAAAADAAAAHAAAAAAAAAAAAAABAAABAEBABBABAAAAAABAHABHCBEAAFBAJAAIABCAEADAGFDBAFDHCDBCAAABABAAAIGADEEAABABAACAAAABADBJBADEAAAADBABBAAAEAGAEHABAEAAACAAACAAAAAAEAAAAGAAAAAAAAAAAAAAEAAAAAAAAAAFAABCAGBABAAAACCIBCCAECCDADIAAAAEACHADABGBCAADHBAADBAAAACCAAECAFIDABBAAAABADACCAFCHBAIAACABCAABAABCAAAADGAEAFAAAAAAAAABAAAACAAAAFAAAAAAAAAAAAAACAAAAAAAAAACAACBABFFBEAABBBDGEFAEAADAGGABEADBAAAAAAKABFAAADBDAAAEAACCAAFDAAIICAAABCACCAAADAEAHAAEAABAADAAABAAAGAAAEMADAAABABABAAAAAAAAEAAAADAAAAAAAAAAAAAAAAAAAHAAAIAAAACAAAAIICAABACDAAFAEAAAABGBAAADABHBAACHACGJAAABAEDAAEBCBABADBBAAABBABACAADABDAGCGCBABABAAFAAABBABAAABBGAAAAAFAEAAAAAAAAAADAAAACAAAAAAAAAAAAAAAAAAAAAAACBAAAFDAABAIAAADCCHAACBGAAHADIFBAAABADAAAIEICGAAAACDEDAAAACAAAAAAAAJFFBADADHBHBAEAFDJCBECACAADAAABCAAAEBAAHAAAAAAAAAAADAAAAAAAAAAAFAAAABAAAAAAAAADAAAAAAAADCCAAAAAECAHFAADADBDAIADBFJABIACJABAAFAAABKIBEDDAACAICBAEABCAAACAAACAABDAHAIAAACDAFAMACABAMAAAAAFAADABAAAEKAFAGAAAAAAAAAAAAAACAAAAGAAAABAAAAAAAAAAAAAAAAAAABCAAAEAAAAAGDADBCACABACBABABDCBHABAAABEABFAGJFDACBCIACAEABAAAAAAEAKACCDAIABAACACAKCHAAAAABBABAABBAIIABAABMAAAAAAAAAAACAAAAAAAAAAAAAAAADAAAAAAAAAEAAAAAAAAAAEAACDABAABAAABCIAEFDAGACBAAFAGGBBBAGBFAACABJHAAHCCEAAECABAAAFAABAKCDAACIFADBBAAAHCEAAAAAAAAABAAFFEAEABACHAAAAAAADAAAAAAAAAAAAAAACAAAABAAAAAAAAAFAAAAAAAAAADAAEBAAFFAADABCAACCBAFCCAACGEEGAABAABIIAEABCGCGDEAABADAACBAAACAGAHAAAAECAEDAAAAAAAHCABAAAAADCCDDGEIBEFAILABAAAAACAAAAAAAAAACAAAAAAAAAEAAAAAAAAAAAAAAAAAADAGABFFBEFDACAAAADABAAAEADBAGEBAAAGAAGAABADACDAAGDDAACCABAAAABBBCADCAAACABCABACDJAFDKAABBACAAAAADAFEAEAEAHKACAAAAAAAAAEAEAAAABAAAAKAAAAAAAAAAAAAACAAAAAAAAEAEEBACBCFHAABAACDAAAAAGACBABJABBACBBFABACFBBFAAECBAADABBAAAABAAABCEEAABAADBAAAABBCFIAAAEEHAAAAAAABEAAAJAAKAAAAACAAAAACACAAAAEAAAACAAAAHAAAAHAAAAIAAAAAAAAFAAAADAABGBACBAAFGIBAAAEABBAAADABAEGAFAACBGACBABCCAAABAGAAACAABAACCEDAABCCHAEAHDCEIDLGAACAAAAAAAADCGFGAAAAIAGABAJAAAAABAAAAAAAAAAAEAAAAAAAAAAAAAAAAAAAAAAAFAAAADABABAABAACBEAHDHADAAFAAAAGHAAFBEABBBGABBEADDAADAAAAAAHAABABBHACABACAGADAAAHIBDJAAIIIBAAABAADDADCAFAIKAAAAAPAAAAAAAAAAAABAAAAAAAAAAAAAAAAAAAAAAAAAAAAAAAAAAAAABAAABAACEBACCAEBBAABBBBHBBAADBAADEACABACBIAACABAAAABAADBABBAADBBACACABABACDICACAICAABAAAABADCADAIJAAAAAAACABAGABAAAABAAAAAAAAADAAAADAAAAIAAAAAAAABBBBBAAAAAAAEAAAEEAAGIDDABDBAAABBAAAABAAAAHAACHAACAAEAAADABAAAFBAAAEAACBFAAAABAEAAJBLIACBHBAAAAACBAACADAAKGAAAGAAAAAAAAACAAAAAAAAABAAAABAAAACAAAACAAAAAAAAHAABBAAAFFAAKAABBCIAGAACAAAAJBAFDCACCEAACCIACCAFABEAABABGGCEAAACABBIFADAAAAABACIAAAALEDFGADBAABBCAAAAAGAAAGAIAAAAACAAAFAAAAAACAAAAAAAAAAAAAAAAAAAAAAAAAAAAHBAAAABAAACAAAAAAAAABEAFAAAAIAAGFABPAJJDECFAICBGBIBAABBBBHAAAAAABBDAAADBAABBAABAHAAAJBAAAAACAABAAAAAAACBAIHAEABAAAJAAABAAAAAAAAAAAAAAAAAAAAAAAAAAAAAAAAAAABBCAABDBAABAAAAAIAADAEADAAABADAAEEBLAJABAELCAAEACDCAGAAAAHBHAAABAAFAFBAAACAAFACJIAAALHHAABCCAADAAIAIACICAIFAAAMADAAABAEAFAAAAAAAAAAAAAADAAAAAAAAAAAAAAAAAAABDAAABBAACAEABBCBBAIHACAADBBFBBGABPAAAAACHBEBDCBADAIIABAAABAAIJAEGEAAAAABAABADACAIDJCCAABCDAFAAAACABDBBAAAADABAAAAAAAAAHAAAAAAAAAAAAAABAAAAAAAAAAAAAAFAAAFAAAAAAAAFCAAABAAEAJIHAEEACAADAAAAAOAFAABAGAIAAFMAAACEAAJAAABAACAAEDDABDBAAAAAAAEABEFBAAACACABAAABBDBAHBAADAFAAAAAAAAAAAAAAAAAAAAAAAAAAAAAAABAAAAAAAAAAAAAAAAAAAAAAFACBAAAAECFGDACEACAAICBBAATAAAAAAGAAAAGMCAAADACCAAAAAIAADEFEBCCBBBABAAADAIAIACAABCFACAAABAAIABCABDAAAAAAAAAAAKAAAAAADAAAAAAAAADAAAADAAAAEAAAACAAACBCBAAAAAIAAAAACEFBIGCAGEAAACLEEFAAOBAABAAGAABACMDAAAABBCAAAAAABABBFAAAAABEAAAACEAACHBDAAADGAAABBGAIBAACAABABAAACAAABAAAFAAAAAAAAAAAAAAAAAAABAAAAHAAAAAAAAAAAAAHAAABABFGADEDIIGIACDBBACBBACABKAAEBAAECAAEAAAAAAGAFFAACAAAGAEBAAAACEAAAEGAJAAABGBAACAAFAAAAABADEBABAAAAAAEAAAAAAABAAAAAAAAAAABAAAAAAAAADAAAAAAAAABAAAAACBABAAABAAACCACAAABIAFACAACBAABAAPAAACBGFADBAACABABBBIDCAIAADCCBCCAABAFABAAFFAICBAEAAAFAAHABAAFCAAFBBCAGAACAAABAAADAAAIAAAAAAAAAIAAAAEAAAACAAAAAAAAABAAADBFAADAAAAAAAABBAAAAECAHAAAACCBADBLACBAABIBBABBDBAAACFBGGAACBDBAAAAJAAAFBAAABAACIEFCFAAAAACCAAABFFBAEDBBBGBABAAAAAAAAAAAJAAAAAAAAACAAAAAAAAAAAAAAAAAAAHAAACAFAAAABACBAABACAAIADJACAAAACCAACALHADAAABGECBAFABAADEFAGAAAAAABABAAAAAACABADEBBJACCIAACBAAAAADAAHAAGABHBCBACAAAAAAAAABAJAAAAAAAAAAAAAACAAAAAAAAAAAAAAAAAAAAGFAAAABBAABBABEBIEFKBDACAACAAAFAVEADACAAHTACAFBBAAAAEECDACAAFBADEAAAAAAADAAABCJBEAFAAAIADHHAAAAHAACHFAAAAAAAAAAABAAACAAAAAADAAAAAAAAABAAAAAAAAAAAAAAAAAADAAXAAAAADDABCCBEAJFGEAGAADBCAAABBAAAAABAAIGADABAAAACBADBAACAAAACAAICABAAACCIAAAEAAAGAAAABEEABCAAHCAIDEIAABAAAAAAAAAAAAAAAAAAAAAAACAAAACAAAADAAAAAAAAAAAAAAAEKBAAAAAFAAADADAACBEAGAHABBAAAAALIAJKBABIGBBBBHABAAAAAAAABAAABAAACDAADEBDAAADANBCBHAAAAAAAABAAAHBAAADIBABABABAFABAAAAAFAAAAAAAAAAAAAAAAAAAAAAAAAAAAAAAAAJADYBAAAAJCDADAABAAFBDBEAAAEALKCAAbBACAAAAHBAACCEBAAABBGEAAAAAAAAACBAAAAAAFEAAAABABAFAAAAAAABAACBFCADABHAAAAJABAAABAAACACAAAAAAAAADAAAAAAAAABAAAAAAAAAAAAAEAAQAAAAABAAADAAEADAGHCFAAABGCAAAAJBAAAAAEDAAACACCABAACIIBAAABAAGACEABABAAEAAABDBDDAFCBAAAAAAAADBAABCADDDCHADAAADAAAAABAEAAAAAAAAAAAAAAAAAAADAAAAAAAAAAAAAAAAcAAAABBAAABAAAAACFAAFAIAACEABBAPGFABAACAAAGBACABAAACCBAABAAAAACBCCCAAABIAABFCABDBGAAAIADAAAAAAAACEEAAAADADAAAAAAAAAAABAAAAEAAAAAAAAAAAAAABAAAAAAAAAEAAAABAVAAFAAPAAAAAAFBACEAAGBIBACDACAAUAACAAACAAFHBADCCAEDDCBDABBAAAABAAAAACAAABCBEAACAAAAACEAADACBBAADACDBAAAGAAABAEADADACAHAAAADAAAAAAAAABAAAABAAAAAAAAAAAAAACBRAAAAEBBCADAAIAAIECBEAABAEEAAAAMABGABABFHCAABAICAGEACBDBBAAEAAAFAAAACABEBBABAABACCAADAAADCCAAAABCEBACAAHADABAAAGAAAAAAAAAABAAAAJAAAADAAAACAAAAAAAAADAAABCAVABADEAAAABAADBBCABACAACAABAAAAAFAAAAADFABADBABABAAABABAACCBAAAFEABAAAABBGEBIAIAAAAAAAEAGAAAAAHBCADAFCBHAAAAACAAADAAAAAAAAAAAAAAAAAAAAAAAAAAAAAAAAACAAACAAaABBDAFAAAAAAAABABCAFAAABBCBEAAdGAAAAAHAAAAABABAACBAIEAAEAAAACAEABAAACABAHADHADAAAAAAAABEAIAAABAADFBBHGKAAACAAABAAACAOAAAADAAAAAAAAAEAAAAEAAAAAAAAAAAAACABBABABAEAAABABBAHIEAAEAHAAABAEAAQEFABBBAADBAAAAAAACCAMDDDDBAAAAAAAAAAAAEEEIADJIHFBAABAEAAFACAAADACFIAKABHAAAAAAADAAAAAAAAAAHAAAACAAAAAAAAAAAAAACAAAAAAAAIABCAAAABIBAAABABAABAEAGAFFEADBADCNAAJABADAEEAAABEBAAFBAADBBAAABAAGAAAABABEAACABIHHIACAAAAAAADBAAIAACAAEEAEABAAAAAAABAAADAAAAJAAAAAAAAABAAAAAAAAACAAAAAAAAIAACAAAAAJCACABAABABAFAFADEAFDAAAOJIADAAAACCCAAADACAAAABACAAAAABDAICDDAABACDAAAAAIBCAAAAAAACCAAAAAAEGGAFFAGAAAAAAAEAAAJAAAAAAAAAAAEAAAAIAAAABAAAAAAAAAAAAAAAEDAAAACCAAAABACADCJAAFBCIAAAAABTBFACACABDBABAACIBABAACDAAHBAACAAICAAAAJAAAAAABAAAADAAAIAACAAAAAACAAAEFAAIABACAAAAABAFAAAAAACAAAAAAAAABAAAACAAAAAAAAABAAAAAFAAAAAACCAAAACFABDJAADABKABFAAATACAAAAACBFABAABIGAAACABAAACAAAAAABAAABKBNCBAAAMBIAAAABDABBBAAAABAAAADNAAHAAAAAAAFAAACALAAAAAAAAAGAAAAAAAAAEAAAAAAAAABAAAAAAAAAACAABAABBACAADCACIAAIADEADDDAABKBAACAEDABAAAAAAAAMAACABAAAABAAAAAADADFEAAABJIDAAAAAABAABADABACBCDLBAEAAAAABAAAAACAAAAAAAAAAABAAAAFAAAABAAAAAAAAADAAAAAABAAACAAAAABAABABCCAAGBCAACFIFQABBADAEAAACAAAAABAAAAABCCCACAAAAABDAAABGACGDAAABACCAAAAAAAACDABADAADGALABGAAACAAAAAAADABAAAAAAAAAEAAAAFAAAAAAAAAAAAAABAAACBABAAAABCAAAAABAEJCBAABBBADBHAANBAAABAAADDCAAAAAAAEEABFKBALAEFGFECBBAAAEBABGAFACAAAAAAAFAAAAHAAAIAEAHILEAFAAAAABAGABAAAAAAAAAAAAAAAAAAGAAAAAAAAAAAAAAAAAAAABAAAAABACABBABCACCAAADDDABAHEBNAAHABAAADDAABAAEGAABCAACBAEABABFCAFFAAAABBBHHAECCCAAAAAABAAACAAAAAACEBFAAGAAAAAAAAABAAAAAAAAAAAAAEAAAAAAAAAAAAAAFAAAACAAACAEAABAABDACDBAAAAAAAAAGDAMAAAAHcAAAACDAAEACGAAAAHLACAAAEAAAACAAFAAFABAAAAABAAABCABAAAAADAAAADAAABADCAABAACAAADAAAAABABAAAAAAAAAAADAAAAAAAAAEAAAAEAAAAAAAAAAAAAAAABDIAAAAGABABFBBFAAIAAEAdVACBABEBBCAACAAAABMACCBBAABAAABAAAAAAAAAIIAAAABCBJAEAAAAFAADFEAAAJBAAABDAAGAAAGABAAAAAAAAAAAAAAAAAAAAAABAAAAAAAAAAAAAAAAAAAAEAAAAAAADABAACECABGCCEEBIABBCnDABAACGBBBABAABAAIAADGFGAAAAABAADADAAAAADCAAFABGEIAAAAAACAAAAAAAABABAAABAALADAAAEACABACABAAAAAAAAAAAAAADAAAAEAAAADAAAABAAAFAFAAAABAIEAADDAAACEAAAFDAIABAAyFAADAAABABAGDAGGGFEBAHAFAAABAAAAFABABBBACDBCADACAIAAAABCCEABBAAAAAAAACAAFAIAAADAAAAACAAAAAAAABAAAADAAAABAAAAAAAAABAAAACAAAAABDAAAEAHAAAAABBBBAADBFAABCAARWDAADABAAAABHDAAGAFAAACBDHCAAABAAAAAABAAACADFAABABACDEDAAAAAEABAAAFEAABAAFAIABAFAAACAAAAAAAAAAAAAAAAAAAABAAAAJAAAAAAAAACAAAIAAAAAAABABAAAFDIIBAAAAFCDAFACXBECAIADAAAAAAABBBAEAAADABHAABAABACAAAAABAIAGFBABAFFAABAABAABAACACABAABAAAABIAHAEAAAAABABABAAAAAAAAACAAAABAAAAAAAAAGAAAAFAAAKKAAAAAACADABAABBECBIAACAAAAAFfBFBAAABBAAHABAAAAAFFAACAFAAAKAABADAABAABAAAFFEAAAAAAABAAAIACAABAAAFAAAEDHBAFABAAAAACACAAABAAAAAAAAAAAAAAFAAAABAAAACAAAAAAAABAADAAAADAEAAAABAFEBFAAFAAICABYAFAACAABAACAHJAAAACAAAIAAAAAAAAAAAAAFAABABBAHFDCDEAAKAAAACAAAAAAAABAAFEBHBAGAAAAACAAABAAAAAAAAAAAAADAAAAAAAAAAAAAAAAAAAAAAABBBCAAAFECDAAAAABAAAEIBEABDACEdBBAAGABAAACDCBAAAAKAADBAAAAAFACAABABAAABDIABAEAHBFCBAAABAAABAAAABAIBAJAAABAHAAAAAGAAACAEAAAAAAGAAAAAAAAAAAAAAAAAAAFAAAAHAAADAAABDAADFAABABAACEFAAAEAADABUYEEAAGAJCAACBCAABAHKAACEFAABAAAAABAAADAAAABABAAABAACCFFBCAFAAABAABABAAAAAABAHAAAAABAAACAEAAAAAADAAAABAAAAAAAAADAAAAAAAAADAAAFFEAADAAAEAABACDBAAABAAGACCDEaSCAAAHBIIAAACCGEAABHAABEAEAAABAKAAAAACAAAAIACCCAAAIDAAAAAAEACEFCACAAACFCACAAGAAAGAIABABAAAAAAAAAAAAAAAAAAFAAAAAAAAAAAAAAAAAAGAAAAAAABDABBABBBAAAAABFBDCBEQAMCBAGACDDACBAGBAABFAABCAECAABCAABCBABABAAAEDCEAHACKAAAACAAAAAABACACAACFBAAAGAAAKAAAAAAAAAAAAAACAAAABAAAABAAAAAAAAACAAAABAAAFAAAAAAAAAAAAAAAABDAAAAFCBBCRQAAAAAFAGHAACAAFADCCHAAAAAEAAAADCAAAEBBADAAAABCAAAAGFBAACAAEAAAAAAAACABBEDGHAHAAAAAAADAEAAAAAAAAAAAAAAAAAAAAAAADAAAACAAAAAAAAHAAABAAAAABBAAAADAAABAAFABAAbACCABCYAKKBAHBAFADACIABABAGDAAAABBAAABAAAAAHHABIAABHJABACAAAAAAAAACCCAAHFDGAACAAABAAAAAAAAADAAAACAAAABAAAABAAAAAAAAABAAAAAAAADBWDAAAAAKKABAAAADEAEAAGAADDjBAIAAbgAJAAAACDEAADAMAAAACLAAAGFFGBABABACAAJABAIIICJAAEAAAAAAABDCEDAEACHBADABBAEABAEAAABAAAAAAAAAAAAACAAAAAAAAAAAAAABAAAADAAACANEAEEAABAAAACAAABABAAHBBIDSAAABAjWAJBAAAACEAAAABBACAACAAAGAAAAAEACAAAAIBEAAIFCAKAABAAAAADAACAAABACIDIBGAAAAAFAAABAAAIAAAAAAAAAAAAAAAAAAAAADAAAADAAAABAAAGDOCAAABBAAACBAAAAACACBEAAJDTBAAAATCAKBAABCBDAAABAAAACABAAAFBAAAABFCAAAAIIDAIIBDCAAABBAAAACFABCAABAAEACBGAAACAAAFAAAEAHAAAAAAEAAAABAAAABAAAAAAAAAAAAAAAAAADATDBAADAACADAABDDBAAABDAAJaOBABEAVBADAAAAAAIAIDAHAAACAAAAAAADACAAEBAAAABBBBDAAFGFAABDBACAAAAADCAAAABBDBHABAAAAAEADAAAAAGAAAAAAAAAAAAAAHAAAAAAAAABAAAAHAAAABUAAAAAADAAAAABCGAAAAAEACBlAJAAEZDJEFAABAABAICAAAAAAJAAAAAABHADBAFAAAAACADAAEIAAGBIAAAAAAAABABCAAFACEAABAAAAAIAAAGAAAAAAAAAAAAAAAAAAAAAAAAAAAAAAAAAAACAAAEAZAAAAABCACBAAHHAABGGAGBCBUBEAAAcAAAAFAABAFCHABAAAAAGABAAAEBBAAABAAAAAAAAAAAAHAFEAHAAABDCABBABBAAAAAEBABABAAAEAAACACAAAAAAAABAAAACAAAAAAAAAGAAAABAAAAFAAACAUDEAADAJAAAAAABEJAABACBakAAABJIQIKBABAADBAFDABAFAAAFACDABAAAAAEBAAAAADDAAAAAAAAEAACAAABAAEDAACBBDAABCACADAAAAAAAAAAADACAAAAAAAAAAAAAABAAAADAAAAAAAAACAAAEBRBFABDEDAAABBACEFADDAGBiZADFAAHMHBABCAADAAACBAADBAAAAAAAABACAACAEFABAADACAIABABEAACBBAAAACCCAAABFABBBABAAAEADAAAAAAAAAFAAAAAAAAAAAAAAAAAAAAAAAAAAAAAAAAAKAWAAABJBCAAAABCBIGAAAAEBITEBCCATCIAABBAACACAADDACAAAABAAAAJADAAAAADAAAACCMAABAACAABAAAACDBAAAAABAABBBBABAIAAAAADABAAAAAGAAAABAAAADAAAAAAAAAHAAAAAAAAAEAAACAbEAABAAFAAFABCAECABHCDCRIAAAABOAAAAICBBBIBCABCCAAADDDDBBCECEAAABACBAAAABBIAAAACAABBAAAAAAAAAAAAAAAAAAAACBAAAJAAAEAAAEAAAAAAAAAAABAAAAEAAAABAAAABAAAAGAAADABABAAAAIACCBDABABABACFIMAALEDmDCAFAEFAAACAAICCBAABAAAAAEABADAAAAAAACABAAAAGIFADCACAADACAACACABAAADCCBABAAAAABAKAAABAAAAAAAABAAAABAAAAAAAAAAAAAAHAAAAAAAAAAAABAAAAFBCIBAAEIBAACHFGCKAARQUDADJCAAABAAAAHAAAAAAAAAADAAAAAAHAACABBAABCBABAEBADAAAABDBBGAACAAAAABIBAAAAAAAAAABABACAAAAAAAAAAAAACAAAAAAAAACAAAAGAAAAAAAAABBABAACAABACAACDIIAADBGCEAAAXaECAAFAJKBAFBAADCABAAAAAAAFABAEAAABABCBCAAJALABBBEBCAAAAACCCAFCBAAAAAAIDEDCAAACAHAAAAAAANACAAAAHAAAAAAAAAGAAAAGAAAADAAAAAAAAJDBAHEAAAAAABBAAAEJDAAFNAAAAAfUEAAAIAAAAAEAACDJBABAAAACBBBDBCBAACAABACBEEAGAIAAABDAAAAAAACAAACAAAAEACCBAAAAAAAAALAAAAACABAAAAAAAAAAAAAAAAAAAAAAAAAAAAAEAAAADAABCAAAAAAAABACBAAAAIKBABAWDADAACCACABAAAAGCEDBCAACCAABBDAAIIAABAAAABAACBABAABICBAEAABAABABAAAAAJAAABAIBAAAAAAAAFAAAAAAAAAAJAAAADAAAAHAAAABAAAAAAAAAHAAAAGABBACCDIAABACAAAGAGDKDAAAAXAAAAACAAAABAAAAEBAAAGAAADAABBBBAIBBBDADCAAAIIBAACDAGJIJAAAAAECAIAAAABJBCCBAAAFAGAAAAAAAAAAAGAAAAAAAAAIAAAABAAAAFAAAAEAAAAAAAABAEABABAABACDADFCDAAAAABAAAaAAIADBCAAAAAAIACCABADBAAAHABABADABAABBCJAAAAAHCAABDAAEAJAABABAAAAAABACCAEDAAABAAGAAAAAAAAADAAAAAAAAAAAAAAAAAAAAAAAAAAAAAAAAAAAABAAAAABABAIABADAKAAGHBGAAOUACAAAACBAAHHAEAABACBEGAAFEBACAADABACCCBAAAABAAAAACBAAEAAADAAAAABBABAACBFCBABBAAAAAAAAABACAAAAAAAAAAAAAAAAAAAAAAAAAAAADAAAAFAAAHABBABAIJBAABAAHDKDHFMAEAABBAAHIHBDADBFBCBAAAAAAFECACFAABAADADAEACAAAAAAAAAAEAAADCAAAAAAAAGBCAAAAFBGAEFKGAAAAABAAAIAAAAAAAAAACAAAADAAAABAAAAAAAAABAAAAAAAAHAACAAAJACBAAAACBECAMBABCEAHCJHGDAAIAAHAAIEAAABAABAABEAAAABCAFAABAACAAAAABAAIACACCBACBABAAGDAAAAAAACAAEIAAAACAHAHAAAAADAEAAAAHAAAALAAAAAAAAAAAAAAAAAAACAAABEFAAAAJACBAAACCBAEPQCBHFAACAIBAEBAIACBCAJAAAACCAEAAAFAAABABAFAAAFABBAAABCAABABHCAAIACBACACCABABBAABAAIDCEBABAAAAABAAAAABAAAABAAAABAAAAEAAAABAAAAAAAAAAAAAHBAAABBAAACCCAAIAACaAAAEACEAAHAAJAABABDABBABAAECAAAAADAAACABAAAAADABAAAAACIACBCBBAAIAAAABAACAABAABBCBCABDABAEADAHABAAAAABAAAACAAAAAAAAAAAAAAAAAAAAAAAAHAAAACACDAAABKAADAAABCeTCDCDAADAAADBACABACAAAAEAGFIIACCCAIIGAAEFAFAADDADABBAACGBBAECBAAAAAAAABAAAAACAFCECAACAACAAAAAAAEAAAAABAAAAAAAAABAAAAEAAAABAAAAFAAAAAAAAACEDAAAAAHJAAACAACoNDACFAAAADIBCEDBIBAABCAAAHAIBBDABAAFABDCJJJAACCABAAAABBADACEACHAAAABAAADAAAACBAADCACBAAAAAAAACAAAAAAALAAAACAAAABAAAADAAAABAAAAAAAAAEAAAAEFAAAAIJCBCJAHBANWAABCFBAFAABGBBFBFAAAACHABAAACAAAGAEAAABBDAMAAEAAAAAABACACCADAIIAFBAAABGACBAACAAIIEADAAAAAAADAEAAAAAAAAAAAAAAAAAIAAAADAAAAAAAAAAAAAAAAAADACAADCBBJJGDAAIZABABBAGBAIAAGGDFAADAAAABEAAAEDFAIAABAAAAACBANAAAJFCAABAADCABBBAHGBAAABABDACAGABFDFAGBAAAEAACAMAEAHAAACAAAAAAEAAAAAAAAAAAAAAAAAAACAAAACAAABBEACDACACCAIAAQhFDBBBAFBBDAAHGABAAAAAAAABAAIDDIABABACBBABBAADAAAKANABBBDAFFBFIAIEADABAAAABABAAAAAGAAAAAAEAAAACAHAEAAAFAAAAAAAAAAAAAAAAIAAAAAAAAAAAAAABAAAFAAACAABABACCAAWYDFAECAFBDCAACFDCABCADCBADAAGBCAAIABAAAAAACAAAABBEADAAAAAAAGCBIADAAIACAADAAAAAAAAAAAAAAAAEAAGAAABAEACAAAJAAAAFAAAAAAAAAAAAAAAAAAAAAAAAAAAAAAAAAABAAADBCAQqACEAAACEBBFBHICBGADAAAAAAIAAAADHCFBAAAAAAABBABBBAIAFAAABBAAACAJAICADACAABBAAADABAAABDCABACAAFAAAAAIAAAAAEAAAAAAAAAAAAAAAAAAABAAAAFAAAAAAAAAABBAGAHAaERIXYCABEABDCBBAAAACBAAAAAAAADAAAEAAAAAAAAAABAABCACBABAAABABABDABACEBAIBADAABAAFAACCBCAAADABAAABAAAACAAACAAACAAAAAAAAAAAAAAAAAAAAADAAAAAAAAADAAAAAHHDFBAAXEYEgAAABBAAACCAAIAAAAAAAAAAEAAAABAABDDABAABACAABDFAAACAAAFABAAEAABEEDAICAGDABAAAACDCAAACBFCJJJBGAAAAKAAAAAAACAJAAAAAAAAAAAAAABAAAACAAAABAAAAAAAAABCBACADAWBjRBAAABDDAACCAAAABABACAABBCBAACAAABBGACACFIEEAHAHHIADDBBBAAADAABAAJDAJAAAAAAAABAADEADAHIBBADEAFAAAAAAEAAAEAAAGAAAAGAAAAAAAAAAAAAAFAAAAAAAAAAAAAKDAAABAFFcAVFAEDABBEJDFABABAAFCACAAABAABADAABABGDCABBBCBABEIHIABEIAAABAABFAABJAAFAAAAAAAADAAAHADAHDBKAAJJBAAJAAABAAAAAAAIAAAAAAAAAAAAAAAAAAAAAAAAAAAAADAAACCAAABAAAjdUHABEAAEACBBAACHAAJAAACEHAAAAAGAAAACBBGHCCAACAADIACABAGFIAEBAADAAGJDAHAAAAAAAAABAAIAAAEAAIAEAACAAAAAAAAGAAAAAAAAAAAAAAAGAAAAIAAAADAAAAAAAAAFAAAAEACBBABAUaSKBADBAFAEADAAAHBBJAAGABDBBCBAHAAABCFAEFAABAAAGHAACBBAHAKAAACAEFAFADAEBACCAAAAAACCIAABFDCDAAACEAAAAAAAADAAAAADAAAAAAAAABAAAAAAAAABAAAAAAAAAGAAAAFYABAAKMddJGABBAAAAABGGAACBEACBAAACAAAAAAAADAIBBCAACDBAAGHAACAABDBABAAACFEKDBBBABBAAAAAAAAABABABCBAIABAAAAAAAAACACACAAAAAAAAAAAAADAAAADAAAAGAAAAAAAAAAAAACAQACAACCaWJDABABBAGMAAFABBACAAAAAADAACBAAAAEACBBAACEDBCAACBAAAAGAECBAADDEADDAAAAAAAAAABAEAAACAAACCACCCFAAAAFAAAAAAAAAEAAAAAACAAAAAAAAAAAAAADAAAAAAAAAAAAAAAaBHAAAuIIAAABHAAAAMBCAAACABAAAIBFAABABAABABCCAABAACDEAAHHBCBAAADADBEABDCAAFCAABBBCAAAACCCAAAAAADACAEBDAGAAEAHAAAAAAAAAFAAAAAAAAACAAAABAAAAAAAAACAAAAAAAAAAUAHARNAAAIIAAABAIAFBABAAEABAAAEDHAAAACAAAAHAKKAAAABGBAADHBAAAAEBAAABAACBADDCAADBACBBDAABAAAAAABDACBFAAAFAAAAAAAABAAAAAAAAAAAAAAAAAAAAAAAAABAAAADAAAAAAAAIGdAHAYOAAAHGAAAABIAEABAAABBABCADAAAAAAAAAAAABBBAIAADCAAAAADAAAADBAABABCBCCIEJBCIEAAABAABIAAAAABACFBAAABAAAADAAAAAAAAAAAAAAAAAAAAAEAAAABAAAAHAAAAAAAAABAAAGCYAAcSCAEACABAAACAADAGIAABBAAGAAAAAAAACAAAAABCBBBAABCCAADBBBAAADDAEDCACIIDIKBIADGADEBAAAFAAAABDAGAAABDCAFAAEAEAAAAAAAAADAAAABAAAAAAAAAIAAAAAAAAAAAAAAAAAAHAXAAVCCAAACABAAAAEDBDGBAACDAAFAGAAHAAAACABBCBGAACDDDJAAAJCFAAAACACDEAAAFAADECEFAFADEAADAAABAABAAAACAHCACFAABAEACAEABAAADAAAACAAAAAAAAAHAAAAAAAAACAAAAAAAABAZBACAAADGCAAABCBHBABFBAACCCDGADAEIAEAAAABBAABFADAACDCAADBBAEAACAAAAAACDABFAFAABAABCAAAAAAAAAAIADABFABADGAAAAAAAAEAFAAAGAAAAAAAAADAAAAAAAAAAAAAACAAAAHAAAAAZBAAAJACBBAABDAAAACAAAABECDEAAEAHCAAAAAABBBAHBAIAAAEAAAAADAGAAAAFIAAAFGABAHCCEDCAEAAAABBACBCACADBBAABAAAAADABAAAAACACAKAAAABAAAAAAAAAFAAAAAAAAAAAAAABAAADBDDAEAAACFGCAEAABAABAAAAAAAABAADCBAAAAAACBABABIABAAAAAABBABBAAAAAAHIJBGDBAAHCDBAGAIAAABAKAAAEAAADDBABDBBAAAAAAAAABAAAAAIAAAAAAAAACAAAAAAAAAAAAAAAAAAAEAAACAAEBAAAACEEDAABAAGABABAAAAAACAAJAFEBAAAACCAAACBCCAAAFFAACDAACAAAAAHCIAGBBABGCFACCBABAAAABAAAAAAAAFGCABACBEABAAAAAAAAALAAAAAACAAAAAAAAAAAAAACAAAACAAAADAAAJADCAJBAAAACACABAABABAEAAAAAABAAJAEDAAAACDDAAAJBABCCDHAAAAIABDBCCBCBAADABBBAKBEABBAFBBBABBADDDAAAAEADABADBAAAAAABAEAAAFACAAAABAAAACAAAAAAAAACAAAAAAAAAAAAAAAADBAAFAACDABDAEDLAEBEEABBAFCFAGABKKKAAAECAAABAAEBAGDCABDIBAACACBBIHBDAABBCFAKCBDAGAABAEAACADAAADAABCABBBAAJAAAAAAAFAAAAAAAACAAAAAAAAAAAAAAIAAAAFAAAABAAAGCACACBGAAEFACABBAABABCDAABAECAAGABBKCDAAFBAACAAACABHBAABAGAAEEAABAIBCAEABBBHFCAACAEAIAAAAACFBABAIEBAAACABBAEABAEAAAAAAAAAAAAAAAAAAAAAACAAAACAAAAEAAAAAAAAFAAAAEAAAIFEDDDCAACACABCAAABDHAAJAJCAFAAABAAAAAFFAAABACAABGAACDCDAAGAEBAJCAGHFCADAAAAACCDIIAAACCADDAAAADAEAAAAAAAACADAAAAAAAAGAAAADAAAABAAAAAAAAAAAAAAAAAACAAAAACCAAAFBAACABBAAFBEAAABCBDBFABACAAAAAAAAAABABBCACFAAAAAAADADAFAACAABAAAICKAAAAEABCAACJAABAEBACAAAAAEAAAAAAAIAAAAAGAFAAAAAAAAACAAAAAAAAAAAAAAEAAAAEAAABBAADCABAAJJCACIACHBAAAAAAEEACCAABBAEEBCAADABABBCBBFHBAABAAIABAAAAGBAAAAGHACHHBAAEAAAABCHCCCAABBAFDCAAAECAAAGAKAAAAAAAAADAAAAAAAAAAAAAAGAAAAIAAAAGAAAAAAAAIFBADBACBCAABAEIBFAAABJABABCAAAABBBBAAAAAAAABBBBCBAAABBCAAEBABAAAAABAABBGHBFIBAAIEAAAAAAADADAAAABFBBBADDDBAAAACAAAAAAAAAAAAAAAAAAABAAAAAAAAAHAAAAAAAAABAAAGBBAAAAACBBBBAABAEAAIIJDBAHDABACCBBAAAAAAGBAABCAAEAAJACAABHCAJAAADBAAACBJBCEHAHAICABBAAAABABBAAABACAEDCDBBAAAAJABAAAAAGAAAAAAAAAAAHAAAAAAAAAAAAAABAAAAAAAAECCAABAAADCABIAAAEFAIBJCAACABCCAJBBAAAAAAAAAFACAAAAAADAAAECAACABABCAABBCJBDIFAGAEIACCADBGGBADAABAAEACBECBAAAJABAAAAAAAAAAAAAADAAAAAAAAAAAAAABAAAADAAAABAAADADAAHEAADDABIACCAJBABJDAABBBADBBBAAAFAAAAAAFDBEABBADCCAAAJADCAABAHAAAACBAFIFFEAHDAACAFAGCAAABADAACADBAEBIAAAAGABACACAAAAAAAAAAAAAAAAAAAAAAAAAAAABAAAACAAAGAAAAAAABBAAACBDDAFAGBDBBAHDABDAABDBAEAAAAABAEFDABBAABGAAAJEAABBBAAIDCEHJABFFBAAAEADACABDCAAADAAACAADCFIAEAAJACADACAAABAAAAAAAAAAAAAAAAAAAAAAAAAAAAAAAGAAADAAAAAAAAKAAAAAAAAHAGBAEAAGAAIAAABCBAFAAAHBACEADAIAAGBAAFFKIAFAAACABAEEAAAGCDAFAICACBCAACAAAABAAAJABAAAAAFAAAAAAAABAAAAAAAAAAAAAAAIAAAAHAAAABAAAAEAAAAAAAAACAAABABAAEBBABAAAGAEAAAAAIBBIIABJHACFBAACBCCAAABAAAAIJAAAEAACACAAAAAAAADCCAAAGAHECAAABAEBBABBFAAAAAAAABBFAABAAADAIAAAAAEAAAAAAAAAEAAAACAAAAAAAAAAAAAACAAADGCABAADAABBBAACABGCACIDCAABCICABAHFBBCAACAAABJJAAHAAICAAACAAFABDADAAAAAEBECABBACCAAFEBAJBBBABABABDAAACBAACAAAAAAAFAAAAAEAAAAAAAAAAAAAAAAAAAFAAAAEAAAAAAAAEAAAAAIDAJHBDAACACFCAIDFAAAAAAEAAAGAEAABACAACAAJBCDAAIBAACDDAJAAAABBCAABFAAACDCAAAADAGAAKAAAABCBCAHAAAEABACABAAAFAAACAJAAAAAAEAAAAAAAAAAAAAAAAAAADAAAAAAAABABBBBAAAAADAAABEAFDAADACBAAAAAAAAFEAAAAACAGBABAAJDABICAAIAAAEAAAAFCDBBADBAAHAGAAAAHBDGAKAAAAABBAJDCBAABAAAAGACAAACAAAKACAAAAAAAAAEAAAAAAAAAAAAAAAAAAAGAAABAACAAAACAAABAAAIAFCCAAAAAHCAAABAACAAACAABCABACABGCACECBDBBIABABACECABCCEAAEECIAAAAHAAAAEAAABAAAAEAAAADBAEAAAAAAAAAACAFAAAAAAJAAAAGAAAAAAAAAAAAAABAAAAAAAAAABACGAAACEAAAAAAAEHAAALBAABAABAABBAIGAABICADAHAAAAAAABADBCAAAADABCCAACADABEAEAAJHDFBAAABBABBBAAAECABCDAAEAAAABAAABAEAAAAAAAAEAAAAAAAAAHAAAAGAAAABAAAABAAABDBAABACABEAAAGACAGAAGHCAAABBBBBBCCAIBBAAAAAAAGIIBCCACCBBCCAAFABAABJAAADDAAAIICABBAAAADBBAAACACAAACAABDHBCBAAABAHAAADAHAAAAAABAAAAAAAAADAAAACAAAAAAAAAAAAAEEAAACACAADEAAADBADCAAIAAACAACABBBCAADCACCAAAAAEFIBDACBAACAGBFACACBAAABBGBBBBCAACDADABAADFBACACAAACADAADAACAJAAABAAAAACAAAAAAAAAAAHAAAAAAAAAAAAAAAAAAAAAAAJECAACAAACAIAAAAACFCBBDBAABCADBJACAAAECAAAAAACNDFAAAADBACGIBAGACAIBHBCAAEAABAAHAFABCAAAAAEABBACBAAEACACAAAAAAAFAAABAAAEAGAAAAEAAAAAAAAABAAAABAAAACAAAAAAAAABAAAACEAFBDAAAAAAHBAAABAACCACBBACGBCBCAAAALAACAABAACCAABHGBAAAAAADEAABCDAAADABABBAAADABABAAAAAAABBAABAACAAABAAAAAAAAAAAFAAAACAAAAFAAAAAAAAADAAAAIAAAABAAADFBACADAABICCCAHACFACAAABBGBAGADFAFBHHAAAAAAAAADAAABBACBCBGABABAAACDACAACAIAFBAABHCGACAAHDAEIAAAADAACABABCAAFAIAAADAAAEAAAAAADAAAAAAAAADAAAAAAAAABAAAAAAAAIACABAAAABIBAAAHEAEAABAIBAAAAGBAFBABBHACAAAABABBFEAAEBACBIGAABDAAAAAABAAIAJHHCEADGABBABAGACAAACCADAABAABBBAABAFABAAAAAEADAAAACAAAAAAAAACAAAAAAAAACAAAAAAAAFAABAABEAEIDACAHFADBABAEADAEEFFFACJAFKAAAKAAABAADIAAFAAAAABCAAAFACABAADAAAAHIAEAABBAAAABAABBHBCAAAAAAACAAEAAAAAAAAAAAAAABAAAAAAAAAAAAAADAAAAFAAAAAAAAAAAAAAFDAABAAAEJAACBABDFDABDCAAADCAAAAIIBEAAAAKAAKABBCAAAMCABFIIDABACABCCADAAAAAJIEEACCAEBGBACABEBCBBBBAAAAGAAAAACAAABAAAEAAAHAAAABAAAAAAAAAAAAAAEAAAAAAAAAAAAABFBAAAAAACADFFBAAAJDBDABACAIAAAFAIAADAFBADAABAIBCCAAICEDAACFAGAGBBGHABDIDAABKCACDGADBACAEEAADAAAAHAACAFABDAAAABAAACACAAABAAAACAAAAAAAAADAAAABAAAADAAAADAAAEEIAAAAFAFHEGAABHAHDAACACCCADEBFAAAAFADAAMABBADACCCABABEIAAAABGIAAAIACAHAAACBDGDCCAAADDADBACEFCFDIEAAADEDDEAAAAAFAAAAAEAJAAAAAAAAAEAAAAAAAAABAAAAAAAAAAAAAJEAAABAAABCABBAIGAEEAABEADACDDAAEDBABBABACADBAADDCCAACACCCFACAAIABCBAABAAAAABAABADBAADAAAFBADAADAJDABABBEHAAEAAAGAAACAEAJAAAAAAAAAEAAAACAAAAAAAAAAAAAAAAAABSAABIHDCCJEAAABGAFAAABCACBBACABFABAAHHAABAAAAAAAIAAGAABABDAAIABAAFAAAAFFABCCAHCIAAEABFAAAAAAADAADFDBAAFAHAAEACABACACAAABAAAABAAAAAAAAAAAAAACAAAADAAAAMAAAAQAAAAAAADABAABBIABAAACAABCBAABBAACBAHBAABCCAABHDCBABBCAABACAAABAECAAABFFAACBCFAIAABBADAAEAAAABBAEBAABKAAHAAAACAAAAAAAAAAAAAAAAAAAHAAAAAAAAAAAAAAEAAAABAAAAOAAABAAAEBAAAIAAAABBAAADFFDDAACAHCAGDAAALAEAABBCABAAHDAACAFACABADCDADABABABEAEGABHCABAAIAAAJAAAAEDAAAAAGEAAAAGADAAACABAAAAAACAAAABAAAAAAAAAAAAAAGAAAAAAAAHOABABAABAADACJAADBAAAAACCCDFACDBBDACDABELAIABBAAIBAAHCCADFBACADAADDADBABAADDFEABCDHHCDAAAABCDEDEGEAAAJBAEFABAIAFAAADAAAAAAAAAAAAAAAAAAAAAAAAAAAAAAAAAEAAAFJAAAADHAEAFBAEAAABABDCACBHFCBBBAHBADEEADCABACDBAHIAAFACAAAAABAGAEDJAAADAEAAMAAAACAHHCEAACDBADACAEEAAAAAABAAAAAADAAAAACABAAAAAAAAAAAAAAAAAAACAAAAAAAAAAAAACPAAACABAHIEACIAAACBCABABBDEGAACAGABAAAAABACBCAGABAADHEAHAAAACACAEECEDACAFAEBAEBAAADBAJCDAACAAAAAAAAAAAAHCBABAAAAAAAAAKAKAAAACAAAAAAAAAAAAAAAAAAAAAAAAAAAADWBCAACAABIBBCKAAACAAAAABAFBCAAFAACABBBAACACCCDBGBCBAHBBCDAAABABABECADABCABFABBAADAHABBAACBAAAADAAAAAACABDAACAAAAAKAAAAAAAAAAAAAAAGAAAADAAAAIAAAAEAAAADAAAFXAAAJAFABEAADFCCAAAAABCBABCCAADAAHCCGAABCADIAAAEGCAAAACEADAADADABDCAECACAAAAADAACAHBABBFABAAAAEAEAAAACEDAAABABAAAAAAAAAAAAAACAAAAAAAAACAAAABAAAABAAAAAAAAAIBCBAAGAAELAIBACAAAACBDACDBDHAAAIIBCIAABBBBIBABBFADBCEBAAGAAAAAAAGFHAAEAACAIBBCGCFGAGIIIABABAAGACAAADECCBDAAAAAFACAAAFAJAAAACAAAAAAAAAAAAAAEAAAADAAAAAAAAHBBAAAACACBGBCICCACAAAAAACDAAHAAAIHCCIAAACADAADAAAAAAGADADAAADBAAAFEADBKAAAABADAGFBFAAAJBBBAAADCAAAAAFDBFGAAAAAAAAAACAGADAAAAAAAAAAAAAABAAAADAAAACAAAACAAAGDAAAIADAABMAAHABABBABAABEDADEABACJEBGAAAAAABAAAABCBBCAFABAAABCDAAIEBACFBABCAAEEAHFGIHACCADCCAJAAFAAAAAAAAAAAAHAFAFABAAAAAAAAAAAAACAAAAAAAAAHAAAAAAAAACAAAIAAAAECEBAHIAAHAACABACHDBAAACBBCABJIBCDAAAAAAACAABACDAAGCHAAAAACAABICDAEAAAACACABHFACDABBFEAEACAAAAAABGCEEFAAAAAAAAAAAAAAAAAAAAAAAAAAAAAAAAAAAAAAAAAAAIAAAIDBAAGABBAAOADHAAABDAAEBCABIEDCCABAIEAEAAADAAAJACBACAEEFABAABAAAACJGCCAFAABHACIAAAFAAFAAIFFAEAIDACCBAEFGCAAAHAJAAAAAAAAAAAAAAAAAAAAAAAABAAAAAAAAAAAAAAAAAABDABAAAFAABNAIDAAABAAAFABBDIAABCEDABGBDAAAAAABIAAACCAAFBAAADAAABABEGABBEAAAACAJACBCDBBAABCBAHBABABBAAAFFCBAAEAAAEAAABABAAAAAAFAAAADAAAAAAAAAAAAAAGAAAAAAAAHCCAAAAACADIAAEAACBAABAAACCDAABBAAEGBABAEAABCAAAAAABAEAACGAAAJADAABEAABDAAAAAAJIAABEAFADCABAABAAADAABADAAAAAAAAABABAAAAAAAAAAHAAAAEAAAABAAAAHAAAAAAAAADAAAICDBAAAAAAHHAAFEAACAAEAAFGBAFEAGAABAABCAAABADAJAAEBEBAFCCAAAAGBBABCABCBAAAAABBAAAAADAFDDAAAADABBAADABBAAAADAAAAAIADACAJABAAAABAAAAEAAAAAAAAAAAAAABAAAADAAAEFBCAEBABIIGAAGBBAAAAAAAABAAEAAGABCACCABAACHDBBABBDBAAACCAAAAAAAAAGDDAABAAABIIDAACAJAAECBAABHABBCKLAAACCCADAAAAAEAAAAACAAAAAACAAAAAAAAAAAAAAAAAAAAAAAAAAAADAADAAAFCDGLABFBCCCAAIABACHABAABEBCAEEAABBEEEDBABDEFHGACAABEAAAAAAEDDBAEBAACCAHAECABCBDEICBCABIABGBAACCAACEAFAAAFAIACAAAAAAAAAAAAAAAAAAJAAAAAAAAAAAAAABAAAFIBAAAAHIIAEAKIABEABAIABBABABKADADDABGEAAAAAHAEAAAABAGFACAAABAAAAHEFAABAAACCDDBADCAMAACEACAAAAAAAGDBAAIAAHEAJAAAAAAAAAAAIAAAADAAAABAAAAAAAAAAAAAABAAAABAAAIAAAAGAFAAIIACHABABCBIDACEDAAKAGAADAAFAAAGADGAFAAAAAACAADEECAEACAAAAAIBBAAAADBFAAAABGFHCABAAADEABHAAABBBAAFAAAGAAAEAAACABAAAACAAAABAAAAHAAAAAAAAABAAAAFAAAIDABAEBBAIHIABDBAAAABCFAEDGCCABACACAECCADDAABACDDCBBACAAEBCCAAACBBAAACABAACCEAAADKBAHABCDEAAAAEAAGBAAABCBAJADABAAABAFAAACAAAABAAAAHAAAAAAAAAAAAAAAAAAABAAAIADAABAAAAAFBBHCDABAABFBEAADBACBABCDACAGBAAAAADAHMAAEIBBFCBAACADBADCCDADAAAAEGBACAAABABACDAAABHADECABAAFABJAAAAAAACAAACAAAAAAAAAAAEAAAACAAAAAAAAAAAAAAAAAAAAAAAAAAAICFAAEABABABACABAACIBCDABDAABAFBEAEBAGDDCAAAAABGAAEAHGGAAAAADAKAAACCEJACAHBACGABAABEADAAFBAAAGEAAKAAAAABAAAAAAACAAAAAAAAADAAAABAAAAAAAAAIAAAAAAAABCAFAAAADJBGAAJAACAAABDAGABCAAAAAAABAAAABCGEAAGEABBAIAABGBAAAFAGAHABBEBBAAAAAADAGJCABAEIABACAEDDBAAAAAIBBAKAAAAADAAAAAAAAAAAAAAAAACAAAAAAAAAAAAAAAAAAAHAAABBABDAAAIACAAAJAAACAAHCDFGBACEAACABAAAACAIBAFACAAAAAHAAAFAAAADAIBABIADACAABBBAAAAAADBDDIDBAABBBBAAAAAAAAABHAAABAAAAAAAAAAAAAAAAAAADAAAACAAAAAAAAAAAAAAAAAADEBBAABABEBBAAFDCAAADBADGBAABFAEEHAACEDAACFGAACAFCCCEABDEAAABAAAAACAABAAAACAEACBBDDCBBBBGAACADAAABCAABEBABJAEAAAAAJAAACAEAAAAHAAAAFAAAAAAAAAAAAAAAAAAAAAAAIDBBAAAAACAAAEGACAEABDBCEBACAEBCAAABADABABKBAADAAAFGAAAGEBABCADCAADKDAACAACBDCBABJDLAAAAGAACECIAAADAAFAHBFKAEAAABAAAAADADAAAAAAAAAAAAAABAAAAAAAAAAAAAABAAAFAAABAAAACACABGDBAFAAAACFFACAAAACAABAAAAACAADAGAIADAAAAAAAAAADAAABAAAEAADBAAAAAABADIBAAABBCACEIBAAACABACAACAHAAAAAKAAAAAAAAAAAAAAAAAAAAAAAAADAAAAAAAAAAAAAEAEAADABCBAAAFFABBFAAAHAIAABDAAHDFABAAACADFCDABFEBACABABIAABDABDAAACAAADAAAAEBBABBFBBAEBCAIBCCDAAABAABABAAJAHAAAAAAAAAFABAAAACAAAAEAAAABAAAAGAAAAFAAAAAAAABACAACAAEGAAAAGACAHBAAABEABDAAACAFBCGCABCFBABAAAAHDBEAABAAABEDEAADDBDBAFAAAGGEFBBEJACBDDDAEAAHHACCAAAABAABFAAAAAAAHAAAEAAAAAAAAAAAAAAAAAAAAAAAAAACAAAADAAACABAAAABFCAABDECAAAAAACAFAFFBAAABAAAADBBABDEABECAACFBIAADBAAACAAAGDDCAAEAAACDAABADCEBBBADACBAIECCDACABAAAAJAAAAACANABAAACAAAAEAAAAFAAAAHAAAAGAAAAAAAAAGAAAFAAAAEAAABAABFGEAADCCKCBFCAGAABBCBBBADABDABADABEBICBDJAFHBABAIAAADEDABACAAGCDBAACAECEACCDADBBABDAAAAAABADIIAAABAJAHAAAEAAAAAAAAAAAAAAAAAAAAAAAAAAAAAAAAAAAAAAHAABABIAAAAIDAABAACDAHFAAADAACCBDABAAABIABACAADFDABAAIABAAHAAAAFAABBCBADAAAAAACAAAABBAADABACDABAABAECAANAAAAAFAAADAAAAAAAACAAAAAAAAACAAAAAAAAABAAAAAAAABABAAAAAABCCAAGACAAAGACAEHECHFBAAABCAIBDFBCBBADAABAABCAAAADBIJABBAACABBAACAEAAAEBCCAIAAAHBABDBCAAAAAAAEHABJABAAAAABAAAFAAAAAAEAAAABAAAAAAAAAAAAAAAAAAAAAAABAAAADACABADBCJABAAAAAAAHAAAADCBJABAABBBIADBIAGHFBAAACAAIAAAIICAAAACBBBABADBAACBBBAAIAACFADEACAAAKAAADCAABIAAAJAAAJAAAAAAAAAACAAAADAAAAJAAAABAAAACAAAAAAAAIBABCDABABBDABLCAABAAGAAGAAAAGBAICAACABAAADDHABIADCAAIACIAAAAFAAEAAACCAAAACAABHADAIIAACDAAABABADAIIBBCBAACCACAAACAAAGAEAAAAAAFAAAAIAAAAAAAAAAAAAAAAAAAAAAAOBACDHAABDACAEFIIABABBAAHBACBABBAFCAEABACCEBBBCAFDDCBKAABAAAEAAAAAKCABBBEADAAFDAAHBDIAAADAAAAEFDABIAABAHAAFAAAKAAADAEAKAAAAAAAAAAADAAAAAAAAAAAAAAFAAAAAAAAAAHAAAACAEEABAFAAACBABFCBBABDAABBBCBBDCABCCCIBBDCADAAAABEAAAFIAAABDAABACBAFAABGAAABEBIIFDBCABAACBKDBBACDABBAEAAAAAAAAAAABAAAACAAAADAAAAHAAAAGAAAAFAAAAAAAAAABAACACAGBABAJEAAABAAABDFBCDABBICHHBCAACAIEDAIBEIDHCBBAAAAAAGHAACBAAAABAAGAAAAABACEDCBABCAABABFCJBAAAAAAABAAABAAACABACAAAAAABAAAAAAAAAAAAAADAAAAAAAAABAAAGABBAAAAAGBBBAFEACEAABEAJFDAAAACBCAAAIAAAABDEACABAADAHAADABAAEAAAAHAACAHDAJAABCAFJFCCAAAAABBAHAEAJFACAEAAAAAAACAAAAAAABADAAAAAAAAAAAAAAAAAAAAAAAAAAAAAAAAAFABABAAAABAAADHBAABBTBCAFGDAEEBDBDHBACAAAABAABGBCAABADAAAAAAACAAAABAAAAACBGAACHACJGDBEBAIAACCHABAJBAAACFAACAFADAAAKADAAAAAAAABAAAACAAAABAAAAGAAAAAAAAAAAAAEAACAACACDBBACHAAABBMFAEFGCCAACCDAHAAAHCBBCAAAGCBAGBBFABAAAAAIACABJAABAAABIEAAAAAACJAAAABAACAAAHAAAAABAGAAAAFAAAAAAADACADAAAADAAAACAAAABAAAACAAAAAAAAABAAABACAAAAAACAAAAKBBABCTFAEGEFDAAAAEAACAAIDGCDABBADACCCCGAAAAAABAAAAAJAAAABDAEAABAAAAAJDACCFAAAAACGAAAAAADEABAAGAEAAAHAAAAABAAAAAAAAABAAAAAAAAAAAAAAAAAAABAAADAKKAAABABFAAEDECAEBaFDCBBEAABACHADBCBIABBAFHACBADEACFAAAAABAEAAAJJAAAABABGCDADAAAIJDADFGADABCAGFAAAAAAAACBAAACAAAAAAACAHAAAAAAAAAAAAAAAAAAAAAAAAAAAAAFAAABBEACDABCEAABBJEABBAXGBAGBEACABAAACAAAAAAIBBAAAAAAFEADABHACEAEBAAAAAACADABEAGIDAAAIHAAACHABBAAAAGAAAAAGAADAAAAAADAAAAAGACAAAAAAAAADAAAAAAAAAAAAAAAAAAAHAAACCBDIAABAAAAAFGAAABNSCCAIBAACAAAEABAACDAAABDAABAFAFAFAAGCACAAABAAAAABBAHBAGFIBAAIAABGCAAGBABAAAABFIAAGIAACBAAAAAAAAAAAAADAAAABAAAAAAAAADAAAADAAAABAAAABAAABAADHAAAAFAAAFICABFIbBAEFFBBAAACAACAAACAFCCJAACADADCGCAFHAAAAAAADDCACAABBBGBCIAAFADHKKBBFCAAACAACHAAABAAAAAAAAAAAAGAAAAAFAAAAGAAAAAAAAAAAAAAEAAAAAAAAABAAACAADACAAACAABAFBAAFWXBBEDAABBEAEEBDCBABAEEBCAADAEBAEACCDAAAABAAAAAHABAACFADCACAAABEBADAAABAAAHAACCBABGAAACCABAAABABAAAAAAAAAAAAAAAAAAAAAAAAAAAAAAAAAAAJAAADACDBAADBIICBCHDABFMLADAGIBAFCBEEEEACABAEEBIADGABJIAFAAHGAAACAAAACAAABAEBCGDAAHADAGCAABCACAAAABEBDABADAAAAFAAAAAAAAABAAALAAAAFAAAAAAAAAAAAAAAAAAAAAAAAAAAAJAEAAACCADAAAAEDABGIQDACHIBABAEAEDAEAIAAHDBDADIAACBAAEAIFAAAAAAAABNAACAAAABEABBABAGBBCBBBACBACADAEAAADCAABAACAAAAAGAAAOAFAAAAAAAAAAAAAAAAAAAAAAAAAAAAABAAABACACAAFAAABABHCAAIMNECCFCEAAHBACDACFCBAFFABHAGAAHAAAACGAACAAAAAAABAACAAAAHFAHBAJBBBDCCCACCCABAIBEADAFAEABAAAACABAAAAABANAAAAAAAAAKAAAAAAAAABAAAAAAAAAAAAABADBCABDACAAAEEFCAEIVFAAFAHABABCADBCADAAAAAAIBAAAACCDDADAABAAAAAAACAAAAACACAAFAAAAABDAADBDCAAGCAAKDDEIABABBAAAKAAAAAAAAAAAAAAAAAAAHAAAAAAAAAAAAAAEAAAAEAAAJAAABABAHHAEEHECDADQVJABJAGBAAACGHFABHAAACAAACJAAACAAABLAAGAAAAAAAEAAACAFAHAAFAAABAIBADAADBCACAKAEGAAGADBAAAAABAAABAAAAAKAAAAAAAAAAAAAAAAAAAGAAAAAAAAAAAAAFAIBEAAAHCAABBIBDAENADAAEHFBCAAAGEAABGBAHAABCAHAFAAAABAGCAEBAABDAABAAACAEAHBAIDAACCACCCACABBBCFACFGAAGAAAAAAEAAAGAJAAAAALAAAABAAAAAAAAAAAAAAAAAAACAAAAEAAAIAABBBBBAABBAIIDAAEOACAAHAGBADDCAAACBAAABABAAAAAGACABDAGAAGBAAAABAAABACABAFAHIAAECBCCEACHGCAACCAAHDAFFAAACAAAAHAKAEAAAEAAAAAAAAAAABAAAAHAAAADAAAAAAAAAIAAABABADDBAAAAAACGEAAGEBCAADAABAAAABAAHDCBAADBCGBJACADADBAKBAABACAAAAAAAAABCAEAGIAAFDDIAAADFBEBACEBBMFACJAAAAAAAADABAAAAABAMAAAAAAAAABAAAADAAAAAAAAAAAAAAFAAAFAAAAEAFBBABABFGDAEOEEAABIEBDACEEDACCABAADAAGBBAFEEADIAHGABBAAAAACDDDAAEDAGAAEBAEBDAABDBACBBAAFAAAAAAFABABAABAAAAAAADAAAAAAAAAAAAAAAAAAAAAAAAAAAAAAAAAAAAAAAADABADCAADCAHBCAGIGCAACKFBAABAAAAABAHACJJDCGCFAAHDDHAIAAAAAAAACBFAABBFDAFBDEBAEAEAAEAACAFAADADAABABFBBACCAAAAAAADAAACAIAAAAAAAAAAAAAAAAAAAAAAAABAAAAEAAABAAABIACDLABBAGBCBGKAAADFKFFAABAACAECBAABAAAACDAAAFAAABGCAACAEABAAHDAAADBAEMECAADAEABACAICCAADEAAAABAEABAABACAAAMAAABABAGAAAAGAAAAAAAAAAAAAAGAAAAAAAAAIAAAAABCAAAAABAHBKJAAAEIBJAAFBAHBABBIAAAADAAAABABADBHAAAAAACIAAAABABACHBBAAAAADAEADFABGAAAAJIABABGACIIAAAGAABAAAAACAAADAAAAANAAAAAAAAADAAAAAAAAAEAAAACAAAAAAAAAABCAAABBKDAAKHBAACCAADAHACAADAAFBACAAABDDAABABBAAGGAAAJDAAABAAAAAAAABAAAADHADEAECGAADAJAAAABGEEAIIABIBAAAAAAAAAAAAABAAAAAAAADAAAADAAAADAAAAAAAAADAAAACAAABAAAAAAAADCBCDIEBAEABAEGEIBEGAAACBADAKABAAAABAEAAAAIAADGAACABAAABACAAAABCAFABCCAAADBADFDEFHACAABACIAAFACCBGAAABABAAAAAAAAAAAAAAAAAAAAAAAAAAAAAAAAIAAAABAAAIAAABEDFECCBAIHFAAEABGFAGHKBBAHAIAFCACAAHBACBAGAAFADBBCDDACAAAAABABAAABBAAEDCABBBACAFBDAGEHAABABGEDCAIAAAAAAAAGAAADAAAAAAAAAAAAAAAGAAAAAAAAAAAAAAAAAAAAAAAAAAACBAAAAADAAFFDAKBAHABFHDAAABAGBFIFBAAHCBAAADAEHACBBAGHAAAAAABAAACAABAAAGDGBAACBBICACBIAAABAABABCAHFAAAABAAAAAAAAABADACAAAAAAAAACAAAAAAAAAAAAAADAAAADAAACAAEBDAAAKHEADHJCAJCEBABIBADAAAACAFABJDAAAAFABBADAAAAIAGCBCCAAACBABCAAAADBDDGCABIADEFAAAIACAABAABFCAAHDDAAJAAAAACAAAAAFAAAAAACAAAAFAAAAAAAAAAAAAABAAAAHAAACAAAAAABADHABAHJAAEDEANAFBJEAAAAABADCABAACADDBEAAAAABBAGABDABAABAABACAABAAFCACACIBEIHADFFEBACABBDAAAADABBAAAAAEAAAGAAAAAAAAAAAAAAAAAAAACAAAAAAAAAAAAAADAAABACBEBCDAHHBAAHEAAEBBFBDEDJAABAAAAAAACBABDAAIAABCHBAACAFAABCDAAACBAAAAAACAGABBBEAAAHHAFCGAABAACABBAAAEAAAEBAAAAAAABABAPAGAAAACAAAABAAAABAAAABAAAAJAAAADAAADAABADAAAKHAADIAHADAAHEDIBHHAAAAAABBHBCAAABADBCABFAAACBHDAGCADAABABAAAACAAGEEAAAAAAEEDBBFAAAAAAAABAAAGAHAAGAFAAAAAGAAAFAAAAAAGAAAABAAAADAAAAHAAAAFAAAABAAAHAEDACAAAAGBBAGABBFACAIAIAAIAAAAJAABIABABAAACCCABAACABAHFAIAAEAABAAABAAAAADFGBBAAAADAAEFHABCABBAEGCDADAGDAAAAAAAFAMAAAAAAAAAAAAAAADAAAACAAAAAAAAADAAAAAAAABAEBAAAACCABCEIAABFADACADAHFAAAAJDDDIAABADAACAACEEAAABBGAADABBACAFJAAAADAADABDABBACBABEIBBABAAABACDADJAADAAAAADAKADAAAGAAAAAAFAAAAAAAAAAAAAABAAAAAAAAABAAABACDCACDDAACDCHAAAGAEIIAFGFHEEBACAAEEAAAAAAAFGHCBEBAAACHAAGAABABADFAAAAAAAGAHABAHAHAIAFBGAACAGAABFJACIAACAGAAAAAGADAAAAABAAAACAAAAAAAAAAAAAABAAAABAAAAAAAABAAAABAADJAAAAHAFBLHAAAAGEEFAAAAFAAECECACBACAAADAAAAABEFAAHIBAAAACDAAAAAAAHLAABABAACBAABGAAAADDAAEJEAHBABABAAADAAABACAAAAAAAAAAAAAAAAAADAAAAAAAAADAAAAIAAAKAAAAIAHABDCCAHAABFHAGHADAAABAAADBACBEBAIAACAFBDAADAABBGAAAABDAABDDAAAAACAGJIABAACAAACABEBAACABAADIBAGAAFBBACABAAAAAAAAAAAAAAAAAAAAAAAACAAAAAAAAAIAAAADAAAKACBAAAAAMEBCCJIIAGAAHCALAGAJAAAABACDDAAGAAADEDDDEABAIBCCACABDAAAAAAAAAHHAIAHBBAFAACBAEAEBDAADAACFDABFFDAACACAKACAAAAACAAAAAAAAAAADAAAAAAAAAAAAAAIAAAAGAAAEADAAAAAAAFCCDBIEAEJCABAIAJAEAAADACADCBBGBBABAAAHBGGGBCGAAAAACAAAACAAAAHCAEAAAAACCAAABBBBDAABAGAABICCFGAAAIAAABAFAAABAFAAAAAACAAAACAAAABAAAABAAAAAAAAADAAAAABDBACAFKECBBJADAEHDDABDDJAABCABBAAAAAAEEDAAAAAADAABBADAAEAABAADAABAAABEBHBBCAAKBAFCBAAAFAABABACADAFFAABDAAAAAABAAAAAEAAAAAAAAAAAAAAAAAAAAACAAAACAAAAAAAABAIAAHDABIBBACECCAJAACOAEEJABAAAKAAABABBICBACBBBAAAAADHGBBAAAAAAEAABBABBEAAACBABJBBAGCBCFFHGBBAAACDAAIAAEBFAGAAADABAAAAAAAAAAAAAAACAAAAAAAAAJAAAAAAAAAAAAAAAAACHCACJDGAEHFABGABDBAFABCAABABBDCABCABEAACDCBAAFABDHGAAAAAEAAAKAGAABBFFACCGABBDBAECAABAHBCABFBFDABHAAAAAAHAAABAAAAAAAAAAAAAAAAAAAAAACAAAACAAAACAAAAEAAAIACBAGBBHICGACFAHAFCAAIAFABBBAEAFAAEBBDBCCAADDAAEAEDCCDIDAAAAFBAAAAFCAACAAADBCAABDAABCDAAAAGDCAAAKEADIAAADAAAAAACAAAAACAFAAAAFAAAAAAAAAAAAAAAAAAAAAAAAAAAAAADAAIABABFCBDGWFADFCBAADBBCAADAIAHDABAEFABAGAAAAAACHAAEBAEAAACAHAFAIAAAIADFECAAGAFABAABAABADDBAAAEAACAAABEABAAAAAAAHAAAAAAAABAAAADAAAAAAAAAAAAAAAAAAAAAAAFBEAAICABAECAADXCAGBAHGCGACCAAEAEEHDAADDFCAACACAAAAACACGAAGCAABAAADEAAAAJAAACCAAGACHAABCKACDDBDAEABFAFADAACAAAAABAAABACAAAAAACAAAADAAAAAAAAAAAAAADAAAABAAAIAFFADCAACFBABHTBAEABHEAFACBAABAAFFBBAAEGEBAEBGABAAAAEIIACAECAAAEAEFEAAIIAAAAAAAECBOBACBABCBEAAAAICBIGAABCBABAAAIAAAAAAACAAAAAAAAAAAAAAEAAAAAAAAADAAAABAAABBCAAKCDAFEDBCIXBDHADDEAHAHGAAFABABBBAAABBACBDDBDABBAEDHABAAAAAAAAACCCAAIAAAAAAADBAAAEDCAAIAGAAAABNAAGBAAABAAAAAAAAABAAABAAAAAAAAAAAAAAAAAAAHAAAAAAAAAAAAACBCEEADCCDEACAGRBGEBCDCAHADAACABBADBBBAAHHHCBADADABABHGGCACAABAAAAHCADAIHAABAAAADBHBDDAAAAJAGABABBMBAFACABBAAAAABAJAAAGAAAAAACAAAAAAAAAEAAAAEAAAADAAAACAAAIAAAAFBCCABIAAKUEBECEAFAEAIBACAAAAGAKBAACHABDAAABAEACAFEEABEAAAALEAFAAABBAEDABAAEABAABAAAAABCAAADAAAAGADCABACAAADAEAAAAAAAAAAIAAAAAAAAABAAAACAAAAAAAAAAAAAGAEDAEADEABABBHRIBIDCHABHGEBABCAAACABABBGAAACACCAAFAAACJBACFAAAAACIFAAABIAAAABAACADAAABHDABHBBCAAADBIFGABAAAAAEADAFACAAAAAAAAAAAAAAAAAAFAAAAAAAAAAAAAAAAAAAACBACBIIBABBAFaFDDDDGABIECBADBAABBABIAAADABBABAAFDAAAAEAAADAAAABBICAAAEGAAGAAAAEACCDAAAIBCCAABAAEBBCHBAABAAHAAAAAEAAABABAAAAAAAAAEAAAAAAAAAAAAAAAAAAAJAAAAGHBAAABFACAAAGTHAEBDCCAIAEBABGACABBFGAAAEAAAAAAAEAAAAAEAAACAACCAAABABAAIBAACAAAIJBABAAAEECEBAEFAACCFDBAAICAAAAACAAAFAAAAAAAAAAAAAAAAAAAAAAAAAAAAAAAAAFAAABFDDAAADFEADABEAIBHCBDEALCGAGAEACABAABCABGABABCBAAAABAAGAAAAABCBFBCBCAAAHAACDAACEAAAHICBCCAAAAAAAFAACHABBACAAAFAAAAAAABAAAAAAAAAAAHAAAAFAAAAAAAAAAAAAAKAAABADCAHAHBCCAAAIIIACDCHHAFAAAAAAAAAFBBCDAADAAACABDJAACAEFFAAAAADBDFABBBBAABIIDABEBAABJAACGCAIBCCACAAFCGAAAGAAAAAAAAAAAABAAAAAABAAAAAAAAAAAAAACAAAAFAAAAAAAABACBAFAAAAAAEDFACABABACCBAABAAKAIAGKAAAAGDABAAFGAAAAEACBAABADAABAAADBBAAECAAFBBGFAHIJAAADCEEBCCABBKEEFDFAAAAKAFAAAAABAAAAAAAABAAAABAAAAAAAAAAAAAAAAAAAAAAAEACAAEBDFBIAGAHBAAFCADIHEBAAFAJAIABDFEAAGAAAEAGHIACAGGACAACCFAAAAABCBAAABCADCBAAECAEBAAACEAABCEAAAKGECDBADEAAABAAAFADADAGAAAAIAAAAAAAAAEAAAAAAAAABAAAAAAAAHAAEADADCCAAGFHACACFIAIAEFBIIAAAAAABGBAAAAABFAAHFBAAIAADAABBAAAABABBFGDKLBADGEAAAAEEBAHADAAAAADABAICAGHBADAAAADAIAAAAAEAAAAAAAAAAAAAAAAAAAAAEAAAAAAAAAAAAAIACFAACADFIAKBHFABGDDEKAIABBAAAAIBEBDAAABAACEAAAHABBIADBAAAAAEAABBAAEAABLECBIIAAAACGAAGCFAAAAADADADIAFHAAJAADACAAAAAEAIABAAAABAAAAAAAAAAAAAAAAAAAJAAAABAAAIAIAABBBAHEAABGBAAICEADAEAACAAACCBAJAAAAFAAEDAEAIABAAACAAAABAAADBDDAAAAJLBCCIABAAAABAAACCAAAAAAAAADCCDCAADCAKAAAAAEAAADABAAAAAAAAAAAAAAAAAAABAAAAAAAAAAAAAEAABAAAAABIABAHCABHAGAAAGAAAABCABAAFAABAEAAFBAFAAAIIBDAAAAAAAAABDCAACBADCADEHAAAFGBABAAAADAAABAAAEACBCBAAECABAAAAAAAAABACAAAAAAAAAAAAAAAAAAACAAAAAAAAAAAAAAACBBBBBABAECDGBBAJCBBJAFCCAABAAEAAFEIAACBCBCAAABABDAACAAAAEABBBADABDAAADAEFEAABAACABCDAAAEIGBCBAEBBEFAAAGCABAAAAAAAEACABAAAAAAAAAFAAAAAAAAAHAAAABAAAABAAABADAADABCCBDAAIEEAFAADJCECAABBCAAALKBAAADBAAAADAAABABBAHCAABAAAAAAAADBBAEHCBCAABFBADCBAACACAIABACHCAACCBAHGAAAAAAAIABAAAAAAAAAAAAAAAAAAAAAAAAAAAAHAAAAAAAAAAGAAAAADAAAAAFAAAGBFFBBIAAAACJAAABHFCAAADAABAAACABAHBCABDADACAADABAHAAEIHAAJAABGHIAAEDADAACIAGACBDBBCAAAAAAAAAAAAAACAAAAAAAAAAAAAEAAAAHAAAAHAAAAEAAAAHAAAAAEFGABGDHACJAHCACEAAABAIAEGADACABDGBDACIDABBAAAABAAABGABAADCFAACABADACDBAAAAEADAAAAAAAAAAAAIBCAAAAACADBAAAAHACADAAAAAAAFAAAAAAAAAAAAAABAAAADAAAAAAAAAAAAADAAAAEAACECFAIIABBEAIBAAFABBABBBEABBAAADDEACCAAACAAAAABAAABBDGABAABAAAABIBDAJCACCABCDAAAAAADDHHBADCAABFFAAAAEABADAAAEADABAAAAAAAAACAAAAAAAAADAAAACAAAAAAAAHAAFLACOHEIAHMEAJTKGFLDHKGIPNDDILEKOBLEGROJWJAEHIJCGDCEACAKHRRFBCPBAAJCFIJFNKDALPAEDCKKAOIAIFAIBAIDKJIJFEAAAAAGARANACAIAPAAAAGAAAAAAAAAPAAAAAAAAAOAAAAMAAAHAIIGGVLQAMAKQFLTINIKGRNLECNKYIIQAHQDKHRSEVDJaASPCMTMLLLBEDHUYAALQJOOPWMPALQJLRGLGSNBMTNLJAEKKLNAJLEFIGKMBCAJAPAQAAAIAAAYAAAASAAAAIAAAAPAAAAMAAAATAAAAKAAAABBHAZUTWPPScaPGliJTNRXXZZdfJUTUHTRVXOLZZNSXPdLfhRaNcZMLBIKYaeAJaSPUIQTTRUFRkZAbaVVICPQFWfMLSLUeJSTMOJLRhTTAHAMAeAEAMASANAAAANAAAAQAAAAVAAAAaAAAAVAAAAaAAAABDEUUlXcVcdbhbPerUYRVTXoagYJccRMMNcWZIdkfTljqHnfiaZbfdXiVUSvoATTecdZcYlRNGPlhWdbPXLFabMeVWQiXhlSWMJNSbPUAUATAaAVANAWAdARAAAAOAAAASAAAAqAAAAXAAAAkAAAAWAAAICUZQYuXmRrflmWFfnfiUjdVpbgpKmgkWaGxSzRopkWmnlXmoccrXodjYYSZd6TZblacdaghZhhUukUmejUUSbmKtXcXsY1pJcjMYfXYjOPAVAmAfABAWAVAqAAAAaAAAAdAAAAiAAAAVAAAAxAAAAcAAAHCbIS4sm2h//t8rZ/6fmdkyY0bt9QqkZ/UU/e2e//utq2pX60ogwWqihkhTUv/GS0/Z2u1fxiZek0zepuanmSkkQzemk8my3cgYZahndzZcAXAvAlATAqApAwAAAAfAAAAhAAAArAAAAqAAAA/AAAAzAAAJSF//////m/////e/////////////////////////////////////////m/////////////////////////////S//+////////////m/UoAmA/A/A/A/A/A/AAAA/AAAAuAAAA/AAAA+AAAA/AAAA/AAAMH/////////////////////////////////////////////////////////////////////////////////////////////////////////A/A/A/A/A/A/A/AAAA/AAAA/AAAA/AAAA/AAAA/AAAA/AAA///////////////////////////////////////////////////////////////////////////////////////////////////////////A/A/A/A/A/A/A/AAAA/AAAA/AAAA/AAAA/AAAA/AAAA/AAA///////////////////////////////////////////////////////////////////////////////////////////////////////////A/A/A/A/A/A/A/AAAA/AAAA/AAAA/AAAA/AAAA/AAAA/AAA///////////////////////////////////////////////////////////////////////////////////////////////////////////A/A/A/A/A/A/A/AAAA/AAAA/AAAA/AAAA/AAAA/AAAA/AAA///////////////////////////////////////////////////////////////////////////////////////////////////////////A/A/A/A/A/A/A/AAAA/AAAA/AAAA/AAAA/AAAA/AAAA/AAA///////////////////////////////////////////////////////////////////////////////////////////////////////////A/A/A/A/A/A/A/AAAA/AAAA/AAAA/AAAA/AAAA/AAAA/AAAIF/////////////////////////////////////////////////////////////////////////////////////////////////////////A/A/A/A/A/A/A/AAAA/AAAA/AAAA/AAAA/AAAA/AAAA/AAAKDSKQ///n///u////////////////////////////////1/2///////g//m///////i/////////////////////br///////////////TpA/A/A/A/A/A/A/AAAA/AAAA/AAAA/AAAA/AAAA/AAAAtAAADEQNH///mmkgn2zqsytnmmyh5kpxRtp/aaR/gxSm48plwrZk20qn/u/Zd/PY5sjMddjyr1tySbep/eau/oYecnl/ef+l2qu4Vdj/bah//LmAqAsApATAmApAoAAAAeAAAAyAAAA/AAAAoAAAAwAAAAiAAAAHPJI05iohfedrSWQcchWPrWxefrQseaQRIpTmXosxbfeUIrqscjdlpTWbUceuUWdZTasjSpcZVbspXb5VZVgbjfQPvYuXmmJaTQXTVy6SYAeAgAbAWAhAnAeAAAAdAAAAmAAAA2AAAAlAAAAlAAAAbAAAFBELGerfSfeYXecdXineWYPPnUdvRXoafSTeIoOXkhYbfUJeieQpSjdRXXLTlnaWfOQeRprOLMRTgqVhcZdZISfTWRoQjMYcRKVKYRehpFbATAcAgASAZAiAYAAAAQAAAAkAAAAnAAAAmAAAAeAAAAVAAAIHJTHZcUJeMILhKVZZOTQVWFnOmXIWTdLEOYLaPiYIQZUBPHViETJTbIGYMRnSHRVKJVUVfVFUgQaYRMeNKYPYJVJTcNdQidMGJQVUNijJDAYAcAYACAHASAZAAAAMAAAAVAAAASAAAAcAAAASAAAAHAAABAIIASeYOCHJCSHEEDELPTLFYLUIHQKRKGJOIPQJSLJLLJCJEJHNOIdANQKDJGMLPFISAROPNIMPPMWRPHOLFUKOBFIOSJGSAELFKKObOHDALAEAGAJAOATASAAAAPAAAAMAAAAHAAAAKAAAANAAAAAAAAAAICADVFFIHJCBDGAKPHDHGHLWMJCDBJJIGNLIEQBBGEPALCGHOLEJMADLAMOAHKMUBDHNOOHBJAIJJMPCCSKKJABAHDAGHUBALJDDILAECALAFAAAGAAAFAKAAAAWAAAARAAAAQAAAAMAAAAAAAAAAAAAIABAAAAFHBAAFAAAAABAADFADBEAAACBAAAMBAFAFEAADAEBAAAAIALAAEAAAAAAACAABAEAGADFBAEBJAAEACJEBADAAAAAAAAEADAGOABABAAAAAAAAAAABAAAAAAAAAAAAAAJAAAAAAAAAAAAAAGAAA";var P=["#440154","#46075a","#470d60","#471365","#48186a","#481d6f","#482374","#482878","#472d7b","#46327e","#453781","#443b84","#424086","#404588","#3e4989","#3d4e8a","#3a538b","#38588c","#365c8d","#34608d","#32648e","#31688e","#2f6c8e","#2d708e","#2c738e","#2a778e","#297b8e","#277f8e","#26828e","#24868e","#238a8d","#218e8d","#20928c","#1f968b","#1f9a8a","#1f9e89","#1fa187","#21a585","#23a983","#26ad81","#2ab07f","#2fb47c","#35b779","#3bbb75","#42be71","#4ac16d","#52c569","#5ac864","#65cb5e","#6ece58","#77d153","#81d34d","#8bd646","#95d840","#a0da39","#aadc32","#b5de2b","#c0df25","#cae11f","#d5e21a","#dfe318","#eae51a","#f4e61e","#fde725"];var X=[124,129,135,140,146,151,156,162,167,173,178,183,189,194,200,205,210,216,221,227,232,237,243,248,254,259,264,270,275,281,286,291,297,302,308,313,318,324,329,335,340,345,351,356,362,367,372,378,383,389,394,399,405,410,416,421,426,432,437,443,448,453,459,464,470,475,480,486,491,497,502,507,513,518,524,529,534,540,545,551,556,561,567,572,578,583,588,594,599,605,610,615,621,626,632,637,642,648,653,659,664,669,675,680,686,691,696,702,707,713,718,723,729,734,740,745,750,756,761,767,772,777,783,788,794,799,804,810,815,821,826,831,837,842,848,853,858,864,869,875,880,885,891,896,902,907,912,918,923,929,934,939,945,950,957];var Y=[86,87,89,91,93,95,96,98,100,102,104,105,107,109,111,113,115,116,118,120,122,124,125,127,129,131,133,134,136,138,140,142,144,145,147,149,151,153,154,156,158,160,162,163,165,167,169,171,173,174,176,178,180,182,183,185,187,189,191,192,194,196,198,200,202,203,205,207,209,211,212,214,216,218,220,221,223,225,227,229,231,232,234,236,238,240,241,243,245,247,249,250,252,254,256,258,260,261,263,265,267,269,270,272,274,276,278,279,281,283,285,287,289,290,292,294,296,298,299,301,303,305,307,308,310,312,314,316,318,319,321,323,325,327,328,330,332,334,336,337,339,341,343,345,347,348,350,352,354,356,357,359,361,363,365,366,368,370,372,374,376,377,379,381,383,385,386,388,390,392,394,395,397,399,401,403,405,406,408,410,412,414,415,417,419,421,423,425,426,428,430,432,434,435,437,439,441,443,444,446,448,450,452,454,455,457,459,461,463,464,466,468,470,472,473,475,477,479,481,483,484,486,488,490,492,493,495,497,499,501,502,504,506,508,510,512,513,515,517,519,521,522,524,526,528,530,531,533,535,537,539,541,542,544,546,548,550,551,553,555,557,559,560,562,564,566,568,570,571,573,575,577,579,580,582,584,586,588,589,591,593,595,597,599,600,602,604,606,608,609,611,613,615,617,618,620,622,624,626,628,629,631,633,635,637,638,640,642,644,646,647,649,651,653,655,657,658,660,662,664,666,667,669,671,673,675,676,678,680,682,684,686,687,689,691,693,695,696,698,700,702,704,705,707,709,711,713,715,716,718,720,722,724,725,727,729,731,733,734,736,738,740,742,744,745,747,749,751,753,754,756,758,760,762,764,765,767,769,771,773,774,776,778,780,782,783,785,787,789,791,793,794,796,798,800,802,803,805,807,809,811,812,814,816,818,820];var c=document.getElementById("c").getContext("2d");var NC=154,NR=405,A="ABCDEFGHIJKLMNOPQRSTUVWXYZabcdefghijklmnopqrstuvwxyz0123456789+/";var m={};for(var k=0;k<64;k++)m[A.charAt(k)]=k;for(var r=0;r<NR;r++){for(var i=0;i<NC;i++){var v=m[D.charAt(r*NC+i)];c.fillStyle=P[v];c.fillRect(X[i],Y[r],X[i+1]-X[i],Y[r+1]-Y[r]);}}})();</script><svg width="1200" height="900" viewBox="0 0 1200 900"><defs><linearGradient id="vir" x1="0" y1="1" x2="0" y2="0"><stop offset="0.000" stop-color="#440154"/><stop offset="0.050" stop-color="#471365"/><stop offset="0.100" stop-color="#482475"/><stop offset="0.150" stop-color="#463480"/><stop offset="0.200" stop-color="#414487"/><stop offset="0.250" stop-color="#3b528b"/><stop offset="0.300" stop-color="#355f8d"/><stop offset="0.350" stop-color="#2f6c8e"/><stop offset="0.400" stop-color="#2a788e"/><stop offset="0.450" stop-color="#25848e"/><stop offset="0.500" stop-color="#21918c"/><stop offset="0.550" stop-color="#1e9c89"/><stop offset="0.600" stop-color="#22a884"/><stop offset="0.650" stop-color="#2fb47c"/><stop offset="0.700" stop-color="#44bf70"/><stop offset="0.750" stop-color="#5ec962"/><stop offset="0.800" stop-color="#7ad151"/><stop offset="0.850" stop-color="#9bd93c"/><stop offset="0.900" stop-color="#bddf26"/><stop offset="0.950" stop-color="#dfe318"/><stop offset="1.000" stop-color="#fde725"/></linearGradient></defs><rect x="98.3" y="85.5" width="864.4" height="737.0" fill="none" stroke="#000" stroke-width="1.1"/><line x1="93.3" y1="810.30" x2="98.3" y2="810.30" stroke="#000" stroke-width="1.1"/><line x1="93.3" y1="689.50" x2="98.3" y2="689.50" stroke="#000" stroke-width="1.1"/><line x1="93.3" y1="568.70" x2="98.3" y2="568.70" stroke="#000" stroke-width="1.1"/><line x1="93.3" y1="447.90" x2="98.3" y2="447.90" stroke="#000" stroke-width="1.1"/><line x1="93.3" y1="327.10" x2="98.3" y2="327.10" stroke="#000" stroke-width="1.1"/><line x1="93.3" y1="206.30" x2="98.3" y2="206.30" stroke="#000" stroke-width="1.1"/><line x1="93.3" y1="85.50" x2="98.3" y2="85.50" stroke="#000" stroke-width="1.1"/><line x1="179.30" y1="822.5" x2="179.30" y2="827.5" stroke="#000" stroke-width="1.1"/><line x1="287.34" y1="822.5" x2="287.34" y2="827.5" stroke="#000" stroke-width="1.1"/><line x1="395.38" y1="822.5" x2="395.38" y2="827.5" stroke="#000" stroke-width="1.1"/><line x1="503.42" y1="822.5" x2="503.42" y2="827.5" stroke="#000" stroke-width="1.1"/><line x1="611.46" y1="822.5" x2="611.46" y2="827.5" stroke="#000" stroke-width="1.1"/><line x1="719.50" y1="822.5" x2="719.50" y2="827.5" stroke="#000" stroke-width="1.1"/><line x1="827.54" y1="822.5" x2="827.54" y2="827.5" stroke="#000" stroke-width="1.1"/><line x1="935.58" y1="822.5" x2="935.58" y2="827.5" stroke="#000" stroke-width="1.1"/><rect x="1016.4" y="85.4" width="36.1" height="737.1" fill="url(#vir)" stroke="#000" stroke-width="1.1"/><line x1="1052.5" y1="822.50" x2="1057.5" y2="822.50" stroke="#000" stroke-width="1.1"/><line x1="1052.5" y1="699.65" x2="1057.5" y2="699.65" stroke="#000" stroke-width="1.1"/><line x1="1052.5" y1="576.80" x2="1057.5" y2="576.80" stroke="#000" stroke-width="1.1"/><line x1="1052.5" y1="453.95" x2="1057.5" y2="453.95" stroke="#000" stroke-width="1.1"/><line x1="1052.5" y1="331.10" x2="1057.5" y2="331.10" stroke="#000" stroke-width="1.1"/><line x1="1052.5" y1="208.25" x2="1057.5" y2="208.25" stroke="#000" stroke-width="1.1"/><line x1="1052.5" y1="85.40" x2="1057.5" y2="85.40" stroke="#000" stroke-width="1.1"/><text transform="translate(108.89,44.00) scale(0.8693,1)" font-size="30.2">IRF</text><text transform="translate(161.51,44.00) scale(0.9803,1)" font-size="30.2">Uppsala</text><text transform="translate(281.65,44.00) scale(0.9279,1)" font-size="30.2">SDR</text><text transform="translate(348.48,44.00) scale(1.0170,1)" font-size="30.2">Ionosonde</text><text transform="translate(501.65,44.00) scale(0.9636,1)" font-size="30.2">UP158</text><text transform="translate(600.02,44.00) scale(1.0392,1)" font-size="30.2">2025-10-25</text><text transform="translate(771.21,44.00) scale(1.0510,1)" font-size="30.2">19:32:00</text><text transform="translate(913.21,44.00) scale(0.9199,1)" font-size="30.2">UT</text><text transform="translate(231.87,77.00) scale(1.0643,1)" font-size="30.2">noise_floor=-111.87</text><text transform="translate(522.30,77.00) scale(1.0127,1)" font-size="30.2">(dB)</text><text transform="translate(589.69,77.00) scale(1.0370,1)" font-size="30.2">peak</text><text transform="translate(665.81,77.00) scale(1.0206,1)" font-size="30.2">SNR=97.42</text><text transform="translate(440.91,873.80) scale(0.9964,1)" font-size="23.2">Frequency</text><text transform="translate(557.58,873.80) scale(0.9357,1)" font-size="23.2">(MHz)</text><text transform="translate(37.90,548.90) rotate(-90) scale(1.0322,1)" font-size="23.2">Virtual</text><text transform="translate(37.90,474.47) rotate(-90) scale(1.0226,1)" font-size="23.2">range</text><text transform="translate(37.90,406.71) rotate(-90) scale(1.0180,1)" font-size="23.2">(km)</text><text transform="translate(1109.00,500.48) rotate(-90) scale(0.8769,1)" font-size="23.2">SNR</text><text transform="translate(1109.00,450.37) rotate(-90) scale(0.9780,1)" font-size="23.2">(dB)</text><text transform="translate(75.22,817.90) scale(0.9818,1)" font-size="23.2">0</text><text transform="translate(47.39,697.00) scale(1.0056,1)" font-size="23.2">100</text><text transform="translate(48.42,576.20) scale(0.9784,1)" font-size="23.2">200</text><text transform="translate(48.42,455.40) scale(0.9784,1)" font-size="23.2">300</text><text transform="translate(48.42,334.60) scale(0.9784,1)" font-size="23.2">400</text><text transform="translate(48.42,213.80) scale(0.9784,1)" font-size="23.2">500</text><text transform="translate(48.42,93.00) scale(0.9784,1)" font-size="23.2">600</text><text transform="translate(172.54,848.00) scale(0.9636,1)" font-size="23.2">2</text><text transform="translate(280.58,848.00) scale(0.9636,1)" font-size="23.2">4</text><text transform="translate(388.62,848.00) scale(0.9636,1)" font-size="23.2">6</text><text transform="translate(496.66,848.00) scale(0.9636,1)" font-size="23.2">8</text><text transform="translate(597.40,848.00) scale(1.0043,1)" font-size="23.2">10</text><text transform="translate(705.44,848.00) scale(1.0043,1)" font-size="23.2">12</text><text transform="translate(813.48,848.00) scale(1.0043,1)" font-size="23.2">14</text><text transform="translate(921.52,848.00) scale(1.0043,1)" font-size="23.2">16</text><text transform="translate(1063.25,829.90) scale(0.9545,1)" font-size="23.2">0</text><text transform="translate(1063.25,707.05) scale(0.9545,1)" font-size="23.2">5</text><text transform="translate(1062.16,584.20) scale(1.0217,1)" font-size="23.2">10</text><text transform="translate(1062.16,461.35) scale(1.0217,1)" font-size="23.2">15</text><text transform="translate(1063.22,338.50) scale(0.9792,1)" font-size="23.2">20</text><text transform="translate(1063.22,215.65) scale(0.9792,1)" font-size="23.2">25</text><text transform="translate(1063.22,92.80) scale(0.9792,1)" font-size="23.2">30</text></svg></body></html>
